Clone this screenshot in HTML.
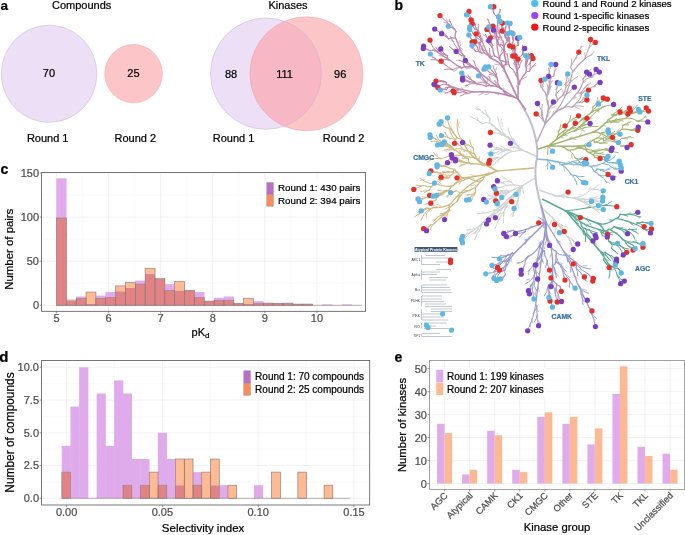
<!DOCTYPE html>
<html><head><meta charset="utf-8"><style>
html,body{margin:0;padding:0;background:#fff;}
svg{display:block;font-family:'Liberation Sans',sans-serif;filter:blur(0.3px);}
text{stroke:currentColor;stroke-width:0.22px;}
</style></head><body>
<svg width="685" height="535" viewBox="0 0 685 535" style="font-family:'Liberation Sans',sans-serif">
<rect width="685" height="535" fill="#fff"/>
<text x="0.60" y="9.50" font-size="13.5" fill="#000" style="color:#000" text-anchor="start" font-weight="bold" >a</text>
<text x="52.00" y="9.10" font-size="11" fill="#000" style="color:#000" text-anchor="start" font-weight="normal" >Compounds</text>
<ellipse cx="49.1" cy="73.8" rx="47.8" ry="48.6" fill="#ecdff6" stroke="#bdb8d2" stroke-width="0.5"/>
<ellipse cx="133.55" cy="73.6" rx="28.85" ry="29.2" fill="#fcc5c7" stroke="#e3a9ae" stroke-width="0.5"/>
<text x="48.90" y="77.40" font-size="11" fill="#000" style="color:#000" text-anchor="middle" font-weight="normal" >70</text>
<text x="133.40" y="77.40" font-size="11" fill="#000" style="color:#000" text-anchor="middle" font-weight="normal" >25</text>
<text x="26.90" y="141.70" font-size="11" fill="#000" style="color:#000" text-anchor="start" font-weight="normal" >Round 1</text>
<text x="114.50" y="141.70" font-size="11" fill="#000" style="color:#000" text-anchor="start" font-weight="normal" >Round 2</text>
<text x="268.40" y="9.10" font-size="11" fill="#000" style="color:#000" text-anchor="start" font-weight="normal" >Kinases</text>
<defs><clipPath id="cpL"><ellipse cx="265.95" cy="73.65" rx="55.45" ry="55.65"/></clipPath></defs>
<ellipse cx="265.95" cy="73.65" rx="55.45" ry="55.65" fill="#ecdff6"/>
<ellipse cx="306.45" cy="73.8" rx="56.55" ry="57" fill="#fcc5c7"/>
<ellipse cx="306.45" cy="73.8" rx="56.55" ry="57" fill="#f8b7c5" clip-path="url(#cpL)"/>
<ellipse cx="265.95" cy="73.65" rx="55.45" ry="55.65" fill="none" stroke="#c4b3cf" stroke-width="0.5"/>
<ellipse cx="306.45" cy="73.8" rx="56.55" ry="57" fill="none" stroke="#e0a6ae" stroke-width="0.5"/>
<text x="231.00" y="78.00" font-size="11" fill="#000" style="color:#000" text-anchor="middle" font-weight="normal" >88</text>
<text x="284.50" y="78.00" font-size="11" fill="#000" style="color:#000" text-anchor="middle" font-weight="normal" >111</text>
<text x="340.20" y="78.00" font-size="11" fill="#000" style="color:#000" text-anchor="middle" font-weight="normal" >96</text>
<text x="212.80" y="141.70" font-size="11" fill="#000" style="color:#000" text-anchor="start" font-weight="normal" >Round 1</text>
<text x="322.80" y="141.70" font-size="11" fill="#000" style="color:#000" text-anchor="start" font-weight="normal" >Round 2</text>
<text x="394.40" y="10.20" font-size="14" fill="#000" style="color:#000" text-anchor="start" font-weight="bold" >b</text>
<path d="M518,99 C524,108 531,120 534,132 C537,142 538,150 537,158 C535,166 535,174 536,182 C537,192 540,200 541,206 C543,214 544,222 544,228" fill="none" stroke="#c3bcd0" stroke-width="2"/>
<path d="M526,110 L518,99" fill="none" stroke="#bb86aa" stroke-width="1.4"/>
<path d="M518.1,89.0 L516.3,85.5 M516.6,69.6 L515.2,67.2 M516.4,67.3 L517.7,63.4 M515.4,58.2 L516.4,54.9 M508.8,38.4 L505.5,34.7 M521.6,56.1 L522.7,51.5 M522.8,52.0 L521.6,49.6 M510.5,48.0 L510.5,45.3 M514.8,49.0 L513.4,46.3 M522.3,79.1 L526.2,77.1 M527.5,57.7 L527.2,55.2 M525.5,57.4 L527.0,53.6 M533.1,66.7 L535.9,65.3 M517.7,79.9 L517.9,75.3 M513.9,72.5 L512.8,68.9 M507.6,56.0 L505.4,52.9 M506.0,73.3 L502.4,70.3 M508.2,78.1 L505.7,76.3 M511.0,84.0 L508.1,81.0 M504.5,70.0 L504.5,65.7 M500.5,45.6 L501.1,42.8 M501.0,51.9 L502.2,48.4 M498.7,26.5 L499.9,22.5 M500.0,40.1 L497.1,36.5 M499.4,33.5 L497.7,31.3 M500.1,11.9 L499.7,9.0 M505.6,57.5 L503.9,55.6 M503.3,32.3 L504.0,27.4 M500.8,24.4 L501.5,21.9 M508.6,36.9 L507.2,33.5 M505.5,28.8 L506.6,26.1 M488.9,22.1 L488.6,19.5 M495.1,36.2 L492.9,34.8 M491.8,28.6 L488.1,25.5 M495.6,39.1 L491.3,37.9 M499.6,32.2 L497.0,28.4 M502.7,54.1 L505.4,51.3 M499.3,46.2 L498.0,42.1 M502.3,40.7 L500.4,38.4 M487.0,37.4 L483.2,34.6 M489.1,44.5 L487.6,40.0 M483.1,49.4 L481.9,45.1 M499.4,65.0 L494.9,64.1 M482.7,40.5 L482.9,37.7 M482.6,40.1 L479.6,37.1 M475.3,26.1 L474.7,22.6 M480.0,45.6 L478.1,43.1 M483.4,50.7 L479.8,48.2 M498.0,84.9 L494.1,84.8 M497.3,84.4 L495.6,80.9 M490.2,79.4 L488.8,76.3 M490.9,79.8 L489.0,76.5 M495.7,83.2 L494.6,80.4 M458.8,42.9 L456.3,41.6 M460.5,45.6 L459.6,40.7 M462.6,49.1 L459.4,47.4 M442.2,34.4 L440.2,31.7 M447.7,23.3 L446.7,19.3 M447.8,23.4 L443.8,22.2 M450.7,22.2 L448.5,21.1 M470.8,67.8 L466.1,68.7 M465.2,61.0 L463.3,57.0 M454.0,41.6 L451.1,40.2 M460.0,49.6 L459.6,46.2 M457.3,69.0 L453.7,71.4 M445.3,64.3 L442.0,63.7 M449.8,60.1 L446.7,60.0 M443.5,60.5 L439.5,62.7 M435.6,58.3 L432.3,57.2 M442.0,50.2 L441.2,45.5 M444.0,56.2 L439.1,55.6 M431.9,43.1 L431.5,39.3 M482.8,93.0 L480.4,91.4 M498.8,94.8 L494.7,92.9 M488.7,93.6 L485.5,94.8 M483.0,93.0 L478.8,95.2 M463.9,89.8 L461.3,87.5 M443.2,82.0 L440.8,80.6 M447.8,92.8 L443.2,91.8 M447.2,87.7 L444.0,89.1 M504.4,91.3 L503.7,88.1 M498.5,80.6 L495.1,77.6 M495.6,71.8 L496.4,67.2 M490.1,68.3 L488.8,64.7 M493.3,86.3 L490.6,86.6 M487.7,81.3 L487.1,76.8 M481.1,72.9 L477.1,70.9 M474.4,61.9 L472.5,60.1 M471.3,66.2 L467.3,66.6 M460.2,60.5 L456.3,60.4 M480.8,77.9 L479.4,75.4 M479.0,84.2 L476.2,84.8 M467.8,85.2 L465.4,87.1 M471.2,79.4 L469.9,76.5 M472.8,80.5 L469.0,79.1" fill="none" stroke="#bb86aa" stroke-width="0.7" stroke-linecap="round"/>
<path d="M518.4,45.0 Q518.4,41.5 519.7,37.4 M518.4,45.0 Q518.4,44.5 517.9,43.9 M517.9,43.9 Q517.8,41.3 517.6,38.2 M517.9,43.9 Q517.8,41.6 518.1,38.7 M513.5,40.4 Q513.2,36.9 514.8,32.7 M513.5,40.4 Q513.5,39.7 512.6,39.2 M512.6,39.2 Q512.3,36.2 511.2,32.6 M512.6,39.2 Q512.3,36.6 512.8,33.4 M509.8,45.1 Q509.0,39.8 508.1,33.4 M509.8,45.1 Q509.7,44.7 509.6,44.2 M509.6,44.2 Q509.1,41.0 509.5,37.1 M509.6,44.2 Q509.1,41.4 507.6,38.3 M517.1,62.6 Q517.0,58.1 522.8,54.4 M522.8,54.4 Q523.1,51.7 524.7,48.5 M522.8,54.4 Q523.3,50.3 522.6,45.2 M514.1,56.1 Q513.7,51.1 509.6,45.8 M515.0,54.6 Q514.7,49.8 514.7,44.0 M515.0,54.6 Q515.0,54.5 514.9,54.8 M514.9,54.8 Q514.6,51.1 512.8,46.9 M514.9,54.8 Q514.6,51.8 515.9,48.2 M526.3,67.0 Q526.9,65.0 529.9,63.9 M529.9,63.9 Q531.1,60.3 531.4,55.6 M529.9,63.9 Q530.8,61.2 533.0,58.5 M525.4,65.9 Q526.7,59.9 528.8,52.7 M525.4,65.3 Q526.3,61.1 525.5,55.6 M525.4,65.3 Q525.5,64.8 526.4,64.7 M526.4,64.7 Q527.2,61.2 527.9,56.9 M526.4,64.7 Q527.0,62.3 528.0,59.5 M525.7,73.0 Q526.2,71.1 529.5,71.1 M529.5,71.1 Q531.0,67.5 530.0,62.3 M529.5,71.1 Q531.2,67.0 535.8,63.3 M517.2,71.2 Q517.1,67.3 513.7,63.3 M517.6,69.8 Q517.6,66.3 514.6,62.6 M514.6,62.6 Q514.3,59.5 512.8,56.0 M514.6,62.6 Q514.3,59.6 515.2,56.0 M519.4,67.5 Q519.5,64.1 521.9,60.4 M519.4,67.5 Q519.4,66.1 518.6,64.6 M518.6,64.6 Q518.6,62.1 518.1,59.1 M518.6,64.6 Q518.6,61.4 519.2,57.6 M515.9,75.1 Q515.4,70.4 509.6,66.8 M509.6,66.8 Q508.0,60.8 507.1,53.4 M509.6,66.8 Q508.8,63.9 506.9,60.8 M498.1,20.3 Q496.9,15.5 500.6,9.5 M498.1,20.3 Q497.3,16.9 494.1,13.7 M494.1,13.7 Q493.1,10.3 490.4,6.7 M494.1,13.7 Q493.2,10.7 493.8,6.7 M502.7,30.8 Q501.2,24.3 498.5,16.7 M502.7,30.8 Q502.5,30.1 502.8,29.1 M502.8,29.1 Q502.0,25.5 500.1,21.5 M502.8,29.1 Q502.2,26.5 502.5,23.1 M508.2,39.4 Q507.5,35.2 509.5,30.2 M509.5,30.2 Q509.1,26.9 507.3,23.1 M509.5,30.2 Q509.2,27.2 510.1,23.5 M506.1,37.9 Q505.1,32.8 505.4,26.3 M506.1,37.9 Q506.0,37.6 505.4,37.7 M505.4,37.7 Q504.7,34.4 502.2,31.0 M505.4,37.7 Q504.7,34.3 505.6,30.0 M498.7,44.1 Q494.5,32.4 487.4,18.8 M497.9,41.2 Q496.5,37.1 490.6,34.7 M490.6,34.7 Q489.3,31.4 488.8,27.0 M490.6,34.7 Q489.5,32.0 487.0,29.4 M498.7,38.0 Q498.5,37.2 500.4,37.1 M500.4,37.1 Q499.2,32.8 498.9,27.4 M500.4,37.1 Q499.7,34.4 497.7,31.5 M496.7,35.8 Q495.8,33.0 493.5,30.2 M496.7,35.8 Q496.2,34.2 496.1,32.2 M496.1,32.2 Q495.2,29.3 492.8,26.2 M496.1,32.2 Q495.2,29.3 495.3,25.4 M503.8,51.4 Q502.6,47.2 497.5,44.1 M503.8,51.4 Q503.2,49.3 504.2,46.6 M504.2,46.6 Q502.9,42.0 501.0,36.5 M504.2,46.6 Q503.5,44.0 503.1,40.8 M492.6,48.4 Q489.4,42.0 485.4,34.2 M492.3,47.8 Q490.3,43.9 485.5,40.9 M492.3,47.8 Q491.8,46.9 492.7,45.6 M492.7,45.6 Q491.1,42.3 490.4,37.8 M492.7,45.6 Q491.4,43.0 488.8,40.5 M494.7,56.0 Q493.9,54.6 491.2,57.0 M491.2,57.0 Q488.1,52.2 481.9,48.4 M491.2,57.0 Q489.1,53.7 489.5,48.5 M479.7,33.6 Q476.1,27.4 471.7,19.9 M471.7,19.9 Q469.7,16.4 469.0,11.4 M471.7,19.9 Q470.1,17.0 466.5,14.8 M479.4,33.1 Q477.4,29.7 478.3,24.3 M476.3,29.3 Q475.9,28.6 474.5,28.9 M474.5,28.9 Q473.1,26.8 472.1,23.8 M474.5,28.9 Q472.8,26.2 470.1,23.1 M476.3,29.3 Q475.3,27.6 475.3,24.9 M475.3,24.9 Q473.8,22.4 471.0,19.9 M475.3,24.9 Q473.7,22.2 473.0,18.4 M481.6,53.2 Q478.4,49.2 479.3,42.0 M477.4,46.8 Q475.7,44.8 474.5,41.7 M477.4,46.8 Q477.0,46.4 476.3,46.1 M476.3,46.1 Q474.7,44.1 472.1,42.1 M476.3,46.1 Q474.4,43.7 472.7,40.3 M479.5,52.0 Q478.5,50.8 476.1,51.6 M476.1,51.6 Q473.9,49.1 472.1,45.3 M476.1,51.6 Q474.2,49.5 471.1,47.7 M481.1,41.4 Q479.3,38.6 475.5,36.7 M481.1,41.4 Q480.4,40.3 480.5,38.6 M480.5,38.6 Q478.9,36.1 476.1,33.9 M480.5,38.6 Q478.7,35.7 477.6,31.6 M477.6,42.6 Q476.7,41.3 474.1,42.2 M474.1,42.2 Q471.6,39.1 468.9,35.0 M474.1,42.2 Q472.5,40.2 470.4,38.0 M475.7,36.9 Q474.1,34.7 472.2,32.0 M475.7,36.9 Q474.6,35.5 473.4,33.7 M473.4,33.7 Q471.5,30.8 469.7,27.0 M473.4,33.7 Q472.0,31.6 469.7,29.4 M448.5,38.8 Q442.7,33.9 434.7,29.1 M448.5,38.8 Q447.7,38.1 447.3,36.8 M447.3,36.8 Q445.1,34.9 441.6,33.7 M447.3,36.8 Q444.5,34.3 442.0,30.3 M456.1,31.6 Q449.2,24.1 440.0,15.6 M456.1,31.6 Q455.5,31.0 455.2,29.9 M455.2,29.9 Q452.8,27.3 448.3,26.2 M455.2,29.9 Q451.5,25.9 449.2,19.5 M464.8,56.2 Q456.3,49.3 450.5,36.7 M461.5,55.7 Q459.0,53.8 456.2,51.4 M461.5,55.7 Q458.5,53.4 454.7,50.7 M454.7,50.7 Q452.3,48.8 449.3,46.4 M454.7,50.7 Q452.9,49.2 450.5,47.5 M461.9,68.1 Q458.3,66.1 453.0,69.9 M453.0,69.9 Q446.9,67.2 441.1,61.2 M453.0,69.9 Q449.5,68.3 444.6,69.5 M449.4,60.3 Q445.2,57.9 438.6,60.7 M438.6,60.7 Q434.3,58.7 430.3,54.1 M438.6,60.7 Q435.5,59.3 431.1,59.7 M447.0,55.8 Q444.2,54.1 440.6,52.2 M440.6,52.2 Q437.5,50.3 432.9,49.6 M440.6,52.2 Q437.8,50.5 435.5,47.0 M447.0,55.8 Q446.8,55.7 447.4,55.8 M447.4,55.8 Q443.8,53.6 440.8,49.0 M447.4,55.8 Q444.4,53.9 439.8,53.9 M437.5,51.9 Q432.1,48.7 430.0,40.1 M437.5,51.9 Q434.3,50.0 429.3,50.5 M429.3,50.5 Q426.4,48.9 423.6,46.1 M429.3,50.5 Q426.8,49.1 423.3,48.5 M468.8,93.4 Q464.9,93.0 460.3,95.9 M464.2,91.9 Q460.8,91.5 457.4,88.5 M464.2,91.9 Q462.3,91.7 460.0,92.5 M460.0,92.5 Q456.8,92.1 453.0,90.8 M460.0,92.5 Q457.4,92.2 454.1,92.7 M451.0,86.6 Q448.5,86.1 446.3,89.7 M446.3,89.7 Q442.4,89.2 437.9,87.6 M446.3,89.7 Q443.6,89.3 440.3,89.9 M446.6,84.2 Q443.5,83.6 439.8,85.5 M439.8,85.5 Q437.2,85.0 434.0,84.3 M439.8,85.5 Q437.5,85.1 434.7,84.8 M446.7,82.5 Q442.0,81.4 436.0,81.1 M446.7,82.5 Q445.9,82.3 445.1,81.6 M445.1,81.6 Q442.8,81.1 440.1,80.4 M445.1,81.6 Q442.5,81.0 439.4,80.2 M458.0,90.2 Q452.0,89.4 444.9,93.5 M458.0,90.2 Q456.1,90.0 454.7,87.5 M454.7,87.5 Q450.6,86.7 445.4,87.7 M454.7,87.5 Q451.5,86.9 448.2,84.3 M497.3,77.7 Q494.5,74.9 489.2,74.2 M496.5,76.2 Q494.2,73.7 489.9,72.7 M489.9,72.7 Q487.5,70.5 485.6,66.8 M489.9,72.7 Q487.6,70.6 484.0,69.2 M496.7,74.1 Q493.9,71.0 493.0,65.6 M496.7,74.1 Q496.2,73.6 495.2,74.2 M495.2,74.2 Q492.2,70.9 488.8,66.8 M495.2,74.2 Q493.5,72.3 491.1,70.1 M478.4,69.5 Q474.8,66.9 473.8,60.7 M478.4,69.5 Q475.0,67.0 469.9,65.5 M469.9,65.5 Q467.4,63.8 465.4,60.4 M469.9,65.5 Q465.4,62.4 459.0,60.0 M486.4,86.3 Q485.1,85.8 486.7,83.3 M486.7,83.3 Q482.3,81.0 478.5,75.8 M486.7,83.3 Q483.3,81.5 478.2,82.3 M477.6,83.8 Q472.5,81.9 465.6,85.5 M474.5,81.6 Q468.1,79.0 461.8,73.1 M474.8,82.4 Q470.7,80.8 467.9,75.5 M470.0,81.8 Q466.4,80.5 462.6,77.9 M470.0,81.8 Q469.7,81.7 469.5,82.2 M469.5,82.2 Q466.4,81.1 462.6,80.0 M469.5,82.2 Q467.2,81.4 464.5,80.2" fill="none" stroke="#bb86aa" stroke-width="1.0" stroke-linecap="round"/>
<path d="M515.9,62.7 Q515.6,56.8 514.3,49.7 M514.3,49.7 Q514.1,46.9 518.4,45.0 M514.3,49.7 Q514.2,47.7 512.0,46.0 M512.0,46.0 Q511.7,43.4 513.5,40.4 M512.0,46.0 Q511.9,44.9 509.8,45.1 M515.9,62.7 Q515.9,62.2 517.1,62.6 M517.1,62.6 Q517.0,59.4 514.1,56.1 M514.1,56.1 Q514.1,55.3 515.0,54.6 M519.5,84.4 Q520.1,78.6 525.7,73.0 M525.7,73.0 Q526.4,70.4 526.3,67.0 M526.3,67.0 Q526.5,66.4 525.4,65.9 M525.4,65.9 Q525.4,65.7 525.4,65.3 M519.5,84.4 Q520.0,79.9 515.9,75.1 M515.9,75.1 Q515.7,73.2 517.2,71.2 M517.2,71.2 Q517.2,70.5 517.6,69.8 M517.6,69.8 Q517.6,68.5 519.4,67.5 M502.3,65.3 Q493.7,46.9 498.1,20.3 M504.1,47.4 Q503.4,44.6 507.2,41.8 M507.2,41.8 Q506.2,36.6 502.7,30.8 M507.2,41.8 Q507.0,40.7 508.2,39.4 M508.2,39.4 Q508.0,38.2 506.1,37.9 M504.1,47.4 Q503.4,44.6 498.7,44.1 M498.7,44.1 Q498.2,42.9 497.9,41.2 M497.9,41.2 Q497.5,39.8 498.7,38.0 M498.7,38.0 Q498.3,36.7 496.7,35.8 M506.7,64.3 Q505.6,61.1 500.2,60.4 M500.2,60.4 Q498.4,56.4 503.8,51.4 M500.2,60.4 Q498.9,57.5 494.7,56.0 M494.7,56.0 Q493.0,52.9 492.6,48.4 M492.6,48.4 Q492.4,48.1 492.3,47.8 M490.5,58.2 Q483.8,48.1 479.7,33.6 M479.7,33.6 Q479.6,33.4 479.4,33.1 M479.4,33.1 Q478.3,31.2 476.3,29.3 M484.6,53.2 Q483.8,52.1 481.6,53.2 M481.6,53.2 Q480.9,52.4 479.5,52.0 M479.5,52.0 Q477.9,50.1 477.4,46.8 M484.6,53.2 Q482.0,49.6 480.4,44.4 M480.4,44.4 Q479.6,43.2 481.1,41.4 M480.4,44.4 Q479.5,43.1 477.6,42.6 M477.6,42.6 Q476.0,40.4 475.7,36.9 M474.7,68.3 Q462.0,59.3 456.3,39.1 M456.3,39.1 Q453.8,36.6 448.5,38.8 M456.3,39.1 Q453.9,36.7 456.1,31.6 M465.6,67.1 Q461.4,64.6 464.8,56.2 M464.8,56.2 Q463.6,55.2 461.5,55.7 M465.6,67.1 Q464.2,66.2 461.9,68.1 M461.9,68.1 Q455.3,64.4 448.0,58.9 M448.0,58.9 Q447.2,58.5 449.4,60.3 M449.4,60.3 Q447.4,59.2 447.0,55.8 M448.0,58.9 Q443.0,56.1 437.5,51.9 M473.5,91.9 Q471.3,91.5 468.8,93.4 M468.8,93.4 Q466.7,93.2 464.2,91.9 M473.5,91.9 Q466.2,90.7 457.6,88.4 M457.6,88.4 Q454.6,87.9 451.0,86.6 M451.0,86.6 Q448.8,86.1 446.6,84.2 M446.6,84.2 Q445.8,84.0 446.7,82.5 M457.6,88.4 Q456.8,88.3 458.0,90.2 M501.8,88.9 Q497.2,86.0 497.3,77.7 M497.3,77.7 Q496.7,77.1 496.5,76.2 M496.5,76.2 Q495.9,75.5 496.7,74.1 M501.8,88.9 Q497.5,86.2 491.2,85.7 M491.2,85.7 Q482.9,81.5 478.4,69.5 M491.2,85.7 Q489.2,84.7 486.4,86.3 M486.4,86.3 Q482.6,84.8 477.6,83.8 M477.6,83.8 Q476.0,83.2 474.5,81.6 M474.5,81.6 Q474.1,81.4 474.8,82.4 M474.8,82.4 Q472.7,81.6 470.0,81.8" fill="none" stroke="#bb86aa" stroke-width="1.25" stroke-linecap="round"/>
<path d="M518.0,99.0 Q518.0,99.0 518.2,84.3 M518.2,84.3 Q518.3,74.6 515.9,62.7 M518.2,84.3 Q518.2,83.7 519.5,84.4 M502.8,67.6 Q501.8,65.5 506.7,64.3 M506.7,64.3 Q504.3,57.0 504.1,47.4 M502.8,67.6 Q499.7,61.3 490.5,58.2 M490.5,58.2 Q488.6,55.3 484.6,53.2 M517.5,98.7 Q496.6,87.7 474.7,68.3 M474.7,68.3 Q471.3,65.9 465.6,67.1 M517.5,98.7 Q514.2,97.0 509.7,96.1 M509.7,96.1 Q494.3,90.6 473.5,91.9 M509.7,96.1 Q505.2,94.5 501.8,88.9" fill="none" stroke="#bb86aa" stroke-width="1.5" stroke-linecap="round"/>
<path d="M518.0,99.0 Q518.0,99.0 518.0,99.0 M518.0,99.0 Q518.0,99.0 518.0,99.0 M518.0,99.0 Q518.0,99.0 502.3,65.3 M502.3,65.3 Q501.8,64.3 502.8,67.6 M518.0,99.0 Q518.0,99.0 517.5,98.7" fill="none" stroke="#bb86aa" stroke-width="1.75" stroke-linecap="round"/>
<path d="M537,142 L545,124" fill="none" stroke="#bba6b3" stroke-width="1.4"/>
<path d="M547.2,114.5 L550.7,111.2 M552.2,103.9 L552.0,99.5 M547.5,104.7 L548.6,100.9 M543.4,118.6 L541.3,115.7 M538.9,106.2 L534.7,103.8 M539.0,116.6 L537.9,114.3 M546.6,117.7 L549.4,113.9 M551.4,108.0 L554.7,106.9 M561.6,96.5 L564.0,95.5 M567.9,93.3 L571.2,91.9 M569.0,84.5 L571.1,80.4 M566.6,78.7 L565.9,76.2 M547.1,101.1 L545.6,98.8 M548.3,92.2 L547.4,89.0 M549.0,88.3 L550.9,86.0 M550.4,67.4 L553.0,63.6 M554.5,71.7 L556.3,68.9 M543.1,86.6 L541.5,82.8 M549.1,82.8 L547.1,78.8 M552.6,115.4 L553.6,111.1 M563.1,93.6 L562.7,89.8 M562.6,94.6 L565.7,91.6 M566.6,85.5 L566.8,82.1 M568.6,81.2 L568.8,78.1 M574.4,60.6 L577.4,58.1 M580.8,47.6 L583.4,46.0 M576.2,68.5 L577.4,65.9 M591.0,55.3 L594.0,51.4 M585.0,57.2 L584.9,52.6 M590.0,42.1 L591.8,40.1 M594.4,43.2 L599.0,41.3 M560.3,110.0 L561.7,107.6 M575.6,107.0 L579.9,109.1 M580.0,96.7 L580.7,92.8 M582.6,99.5 L583.6,96.9 M571.8,98.8 L576.2,97.6 M572.9,97.6 L575.7,96.7 M582.1,83.4 L586.1,81.4 M589.9,77.7 L594.2,76.9 M585.9,75.4 L586.8,71.1 M592.7,86.9 L595.4,86.4" fill="none" stroke="#bba6b3" stroke-width="0.7" stroke-linecap="round"/>
<path d="M545.0,124.0 Q545.0,124.0 548.1,110.7 M548.1,110.7 Q549.2,106.2 553.4,101.9 M548.1,110.7 Q549.1,106.7 547.1,101.5 M544.0,121.2 Q542.6,117.3 542.1,112.1 M542.1,112.1 Q541.0,107.9 537.5,103.5 M542.1,112.1 Q541.2,108.7 542.5,104.3 M544.0,121.2 Q543.8,120.7 543.0,120.4 M543.0,120.4 Q540.9,116.7 536.2,113.9 M543.0,120.4 Q541.1,116.9 541.3,111.7 M555.7,95.1 Q557.1,91.5 561.5,88.8 M555.7,95.1 Q556.6,92.7 556.4,89.5 M556.4,89.5 Q557.4,86.6 557.3,82.7 M556.4,89.5 Q557.4,86.6 559.7,83.5 M563.1,95.0 Q563.7,94.0 565.7,95.5 M565.7,95.5 Q568.8,91.1 574.3,87.2 M565.7,95.5 Q567.6,92.8 568.0,88.6 M565.8,87.5 Q569.5,81.1 577.9,76.3 M565.8,87.5 Q566.5,86.3 565.1,84.6 M565.1,84.6 Q567.4,80.2 567.7,73.9 M565.1,84.6 Q566.8,81.4 570.9,79.1 M551.2,77.4 Q551.4,75.6 549.1,74.0 M549.1,74.0 Q549.5,69.6 551.0,64.4 M549.1,74.0 Q549.4,71.2 548.6,67.9 M551.2,77.4 Q551.3,76.1 553.7,76.1 M553.7,76.1 Q554.7,70.9 555.7,64.4 M553.7,76.1 Q554.2,73.5 554.9,70.2 M542.5,89.4 Q542.2,84.7 544.6,79.2 M542.5,89.4 Q542.4,88.2 541.1,87.2 M541.1,87.2 Q540.8,84.1 541.0,80.3 M541.1,87.2 Q540.9,84.7 540.0,81.7 M548.5,94.4 Q548.5,93.9 548.5,93.1 M548.5,93.1 Q548.9,89.2 547.4,84.5 M548.5,93.1 Q548.8,89.8 551.3,86.2 M548.5,94.4 Q548.8,91.1 549.5,87.1 M549.5,87.1 Q550.0,82.2 548.6,76.3 M549.5,87.1 Q549.9,83.8 552.4,80.4 M570.5,67.4 Q572.1,63.9 571.8,58.8 M570.5,67.4 Q572.6,62.8 576.1,57.6 M576.1,57.6 Q577.3,55.1 578.8,52.1 M576.1,57.6 Q578.5,52.5 581.4,46.2 M583.7,60.2 Q586.1,56.3 592.1,54.6 M583.7,60.2 Q586.7,55.4 588.6,48.5 M588.6,48.5 Q590.7,44.9 590.6,39.5 M588.6,48.5 Q590.6,45.0 595.3,42.4 M571.8,107.2 Q576.3,104.4 583.4,106.6 M576.1,103.2 Q580.2,100.4 581.8,93.7 M580.1,102.2 Q583.9,99.8 586.9,94.9 M580.1,102.2 Q580.7,101.7 581.8,102.4 M581.8,102.4 Q584.0,101.1 586.9,100.0 M581.8,102.4 Q584.9,100.5 588.4,97.8 M583.0,81.9 Q586.2,78.3 592.2,76.3 M592.2,76.3 Q594.7,73.8 596.1,69.4 M592.2,76.3 Q594.8,73.7 599.3,72.1 M582.9,79.1 Q586.6,74.6 591.0,69.1 M582.9,79.1 Q583.0,78.9 583.3,78.8 M583.3,78.8 Q585.4,76.2 586.6,72.1 M583.3,78.8 Q585.5,76.1 589.5,74.2 M581.5,93.9 Q586.9,89.4 594.8,85.6 M594.8,85.6 Q597.0,83.9 600.1,82.5 M594.8,85.6 Q597.0,83.9 599.1,81.2 M580.7,92.9 Q583.5,90.5 588.5,90.1 M580.7,92.9 Q582.7,91.2 584.1,88.3 M584.1,88.3 Q585.9,86.6 587.8,84.1 M584.1,88.3 Q586.8,85.8 590.6,83.1" fill="none" stroke="#bba6b3" stroke-width="1.0" stroke-linecap="round"/>
<path d="M545.0,124.0 Q545.0,124.0 545.0,124.0 M545.0,124.0 Q545.0,124.0 544.0,121.2 M548.1,111.7 Q549.6,105.9 556.9,101.7 M556.9,101.7 Q558.3,99.0 555.7,95.1 M556.9,101.7 Q558.9,98.0 563.1,95.0 M563.1,95.0 Q565.0,91.9 565.8,87.5 M548.1,111.7 Q549.5,106.2 546.9,99.1 M546.9,99.1 Q547.7,89.2 551.2,77.4 M546.9,99.1 Q547.0,97.5 546.0,95.5 M546.0,95.5 Q546.1,92.4 542.5,89.4 M546.0,95.5 Q546.0,94.3 548.5,94.4 M554.2,113.6 Q567.4,98.7 572.2,73.0 M572.2,73.0 Q573.4,70.7 570.5,67.4 M572.2,73.0 Q575.8,66.2 583.7,60.2 M563.2,108.3 Q566.1,105.7 571.8,107.2 M571.8,107.2 Q574.0,105.8 576.1,103.2 M576.1,103.2 Q577.6,102.2 580.1,102.2 M563.2,108.3 Q570.0,102.4 576.6,93.5 M576.6,93.5 Q580.9,89.4 583.0,81.9 M583.0,81.9 Q583.8,81.0 582.9,79.1 M576.6,93.5 Q578.2,92.0 581.5,93.9 M581.5,93.9 Q581.9,93.5 580.7,92.9" fill="none" stroke="#bba6b3" stroke-width="1.25" stroke-linecap="round"/>
<path d="M545.0,124.0 Q545.0,124.0 545.0,124.0 M545.0,124.0 Q545.0,124.0 548.1,111.7 M545.0,124.0 Q545.0,124.0 554.2,113.6 M554.2,113.6 Q557.3,110.1 563.2,108.3" fill="none" stroke="#bba6b3" stroke-width="1.5" stroke-linecap="round"/>
<path d="M545.0,124.0 Q545.0,124.0 545.0,124.0" fill="none" stroke="#bba6b3" stroke-width="1.75" stroke-linecap="round"/>
<path d="M538,149 L548,146" fill="none" stroke="#a2b470" stroke-width="1.4"/>
<path d="M578.9,136.4 L581.3,133.8 M567.9,139.9 L569.8,138.1 M569.0,139.5 L571.5,136.7 M571.9,138.6 L576.1,139.6 M570.0,139.2 L572.7,137.2 M602.5,135.8 L605.8,138.9 M610.8,139.3 L615.2,139.5 M629.3,136.8 L633.6,138.0 M629.6,144.9 L633.0,142.8 M616.9,131.9 L619.3,128.8 M627.0,123.5 L629.3,121.0 M600.6,126.3 L605.0,125.6 M614.3,122.0 L619.0,122.7 M618.1,110.2 L622.5,109.9 M619.4,119.9 L623.7,121.1 M612.2,121.6 L616.4,122.0 M636.6,121.1 L639.6,120.3 M646.7,121.8 L650.5,124.5 M644.2,117.2 L646.9,117.1 M638.4,112.5 L641.0,113.1 M632.4,109.7 L634.2,106.2 M552.6,146.1 L555.4,144.6 M571.4,154.1 L572.3,158.2 M581.7,159.0 L585.0,160.7 M576.0,148.4 L578.2,146.8 M593.3,150.7 L595.8,150.1 M591.9,150.5 L595.1,152.5 M582.9,146.3 L586.3,142.9 M583.9,149.6 L587.7,148.9 M578.1,145.9 L582.0,147.4 M576.9,145.9 L580.5,147.7 M589.4,141.9 L590.7,139.6 M617.3,134.3 L621.3,132.5 M613.9,142.0 L616.6,140.7 M598.9,153.5 L603.3,152.3 M596.1,150.5 L599.8,148.6 M608.7,151.0 L611.1,150.1 M571.5,127.9 L574.3,127.4 M580.7,120.7 L582.6,117.7 M582.3,119.5 L583.7,117.2 M562.8,134.6 L563.9,132.1 M581.7,119.9 L584.2,119.5 M595.9,111.3 L599.2,111.8 M610.9,105.4 L614.3,106.1 M598.5,104.4 L599.4,100.8 M602.5,101.8 L604.6,99.3 M596.8,102.2 L597.7,97.3 M564.5,135.7 L567.6,135.7 M560.9,137.7 L563.6,137.9 M586.5,119.9 L591.2,118.6 M586.8,119.7 L589.9,118.5 M588.3,118.4 L591.5,117.3 M581.0,129.9 L584.6,131.4 M581.4,129.9 L584.2,127.7 M582.9,122.7 L584.4,118.3 M588.7,124.0 L590.9,121.2 M573.1,125.7 L576.9,124.4 M572.7,119.9 L576.6,119.7" fill="none" stroke="#a2b470" stroke-width="0.7" stroke-linecap="round"/>
<path d="M548.0,146.0 Q548.0,146.0 548.0,146.0 M548.0,146.0 Q548.0,146.0 552.6,151.2 M548.0,146.0 Q548.0,146.0 547.7,154.6 M616.1,142.5 Q619.1,142.4 621.4,138.5 M621.4,138.5 Q625.6,138.0 630.5,136.5 M621.4,138.5 Q624.1,138.2 627.4,138.9 M616.1,142.5 Q618.8,142.4 620.8,146.0 M620.8,146.0 Q625.5,146.0 631.1,144.7 M620.8,146.0 Q623.7,146.0 627.1,147.4 M630.3,130.1 Q634.0,129.4 638.3,127.2 M630.3,130.1 Q630.5,130.0 630.6,130.6 M630.6,130.6 Q633.8,130.0 637.8,130.3 M630.6,130.6 Q633.2,130.1 636.2,128.6 M621.5,129.4 Q623.4,129.0 622.5,125.3 M622.5,125.3 Q626.4,124.2 630.9,121.8 M622.5,125.3 Q625.1,124.6 628.6,124.8 M608.0,119.7 Q609.7,118.9 611.0,122.6 M611.0,122.6 Q614.0,121.5 616.7,118.4 M611.0,122.6 Q615.4,120.9 621.3,120.8 M620.0,114.6 Q623.2,113.1 627.9,114.0 M621.7,112.9 Q624.1,111.8 626.8,109.9 M621.7,112.9 Q622.5,112.6 623.5,112.5 M623.5,112.5 Q626.5,111.2 629.5,108.2 M623.5,112.5 Q626.3,111.2 630.3,111.1 M611.8,115.0 Q617.1,112.4 622.1,107.1 M611.8,115.0 Q613.2,114.3 615.1,114.7 M615.1,114.7 Q617.4,113.6 620.0,111.9 M615.1,114.7 Q617.4,113.6 620.4,112.7 M624.9,118.6 Q630.6,116.5 638.0,121.4 M638.0,121.4 Q642.3,120.2 647.8,121.9 M638.0,121.4 Q642.1,120.3 645.8,116.1 M628.8,114.3 Q633.7,112.4 640.2,112.2 M640.2,112.2 Q643.3,111.0 646.2,107.9 M640.2,112.2 Q643.8,110.8 648.6,111.1 M629.1,112.7 Q633.8,110.8 637.4,105.2 M629.1,112.7 Q630.6,112.1 632.6,113.2 M632.6,113.2 Q635.5,112.1 638.3,109.5 M632.6,113.2 Q635.7,112.0 639.9,111.9 M567.3,149.9 Q572.3,150.9 575.1,158.0 M575.1,158.0 Q579.5,160.0 585.8,159.6 M575.1,158.0 Q578.6,159.6 581.3,164.0 M577.7,148.1 Q586.3,148.7 596.6,151.3 M577.7,148.1 Q578.2,148.1 578.6,147.4 M578.6,147.4 Q583.5,147.7 589.0,144.7 M578.6,147.4 Q582.8,147.6 587.1,151.0 M594.3,142.3 Q597.9,142.1 601.5,139.1 M594.3,142.3 Q596.8,142.1 599.8,143.1 M599.8,143.1 Q603.2,142.9 607.3,143.1 M599.8,143.1 Q602.3,143.0 605.3,142.4 M597.3,138.0 Q600.1,137.6 601.4,133.2 M601.4,133.2 Q604.7,132.4 608.1,129.9 M601.4,133.2 Q604.7,132.4 608.8,133.1 M602.5,138.7 Q605.9,138.3 608.6,134.4 M608.6,134.4 Q613.6,133.5 620.0,134.2 M608.6,134.4 Q611.7,133.8 614.9,131.3 M603.6,140.8 Q610.3,140.1 618.4,142.6 M603.6,140.8 Q605.1,140.6 606.6,139.0 M606.6,139.0 Q609.3,138.7 612.5,137.3 M606.6,139.0 Q609.7,138.6 613.5,139.2 M592.9,154.8 Q596.3,155.4 600.4,156.3 M600.4,156.3 Q603.8,157.0 608.1,156.4 M600.4,156.3 Q603.3,156.9 606.5,159.0 M592.9,154.7 Q594.3,155.0 594.7,157.3 M594.7,157.3 Q597.1,157.8 600.1,158.5 M594.7,157.3 Q598.5,158.2 603.3,159.4 M592.9,154.7 Q594.2,154.9 595.1,152.9 M595.1,152.9 Q599.2,153.5 604.2,154.4 M595.1,152.9 Q597.6,153.3 600.7,153.6 M602.1,149.7 Q609.5,150.2 618.3,152.8 M602.1,149.7 Q603.4,149.8 605.0,149.0 M605.0,149.0 Q608.1,149.2 612.0,148.2 M605.0,149.0 Q607.8,149.2 611.2,150.5 M589.9,113.6 Q599.0,106.6 613.6,104.4 M592.7,110.2 Q596.0,107.6 599.3,103.6 M599.3,103.6 Q601.7,101.6 603.3,98.0 M599.3,103.6 Q602.4,101.0 607.3,99.2 M592.0,111.4 Q594.3,109.6 598.3,110.3 M598.3,110.3 Q600.3,108.9 602.7,107.1 M598.3,110.3 Q601.3,108.2 604.9,105.7 M592.0,111.4 Q593.6,110.1 592.8,107.0 M592.8,107.0 Q595.0,105.0 598.5,103.9 M592.8,107.0 Q595.9,104.2 598.7,99.9 M574.4,130.5 Q585.2,124.1 595.6,112.1 M574.1,131.4 Q583.7,126.0 598.2,126.4 M579.0,126.9 Q583.5,124.2 586.9,118.3 M580.1,127.3 Q584.3,124.9 590.1,123.5 M580.1,127.3 Q580.5,127.1 580.2,126.4 M580.2,126.4 Q583.0,124.7 587.0,124.0 M580.2,126.4 Q583.0,124.7 585.4,121.4 M557.8,135.9 Q559.1,134.5 558.3,131.6 M558.3,131.6 Q560.6,128.4 565.0,125.8 M558.3,131.6 Q560.3,128.8 560.9,124.5 M564.4,130.6 Q566.0,129.1 569.2,130.2 M569.2,130.2 Q572.5,127.7 575.3,123.2 M569.2,130.2 Q571.8,128.3 575.9,127.7 M564.4,130.6 Q567.1,128.1 567.9,123.3 M567.9,123.3 Q571.7,118.9 578.5,115.8 M567.9,123.3 Q570.4,120.5 570.7,115.5" fill="none" stroke="#a2b470" stroke-width="1.0" stroke-linecap="round"/>
<path d="M591.4,132.6 Q598.5,130.4 607.2,137.1 M607.2,137.1 Q611.9,136.4 616.1,142.5 M607.2,137.1 Q614.4,136.0 621.5,129.4 M621.5,129.4 Q625.4,128.6 630.3,130.1 M605.1,123.2 Q607.0,122.5 608.0,119.7 M608.0,119.7 Q610.9,118.4 614.1,115.8 M614.1,115.8 Q616.5,114.7 620.0,114.6 M620.0,114.6 Q621.0,114.1 621.7,112.9 M614.1,115.8 Q615.1,115.4 611.8,115.0 M605.1,123.2 Q613.6,119.9 624.9,118.6 M624.9,118.6 Q627.4,117.7 628.8,114.3 M628.8,114.3 Q629.5,114.0 629.1,112.7 M560.9,146.3 Q564.2,146.4 567.3,149.9 M567.3,149.9 Q572.0,150.9 577.7,148.1 M582.8,145.7 Q588.2,145.7 593.2,139.7 M593.2,139.7 Q594.4,139.5 594.3,142.3 M593.2,139.7 Q595.2,139.4 597.3,138.0 M597.3,138.0 Q599.7,137.6 602.5,138.7 M602.5,138.7 Q603.6,138.6 603.6,140.8 M582.8,145.7 Q586.1,145.7 587.1,151.8 M587.1,151.8 Q590.0,152.2 592.9,154.8 M592.9,154.8 Q592.9,154.8 592.9,154.7 M587.1,151.8 Q593.8,152.8 602.1,149.7 M552.9,142.3 Q569.7,129.5 589.9,113.6 M589.9,113.6 Q591.5,112.4 592.7,110.2 M592.7,110.2 Q593.2,109.8 592.0,111.4 M552.9,142.3 Q553.8,141.6 555.0,140.8 M555.0,140.8 Q562.9,134.9 574.4,130.5 M574.4,130.5 Q574.7,130.3 574.1,131.4 M574.1,131.4 Q576.7,129.9 579.0,126.9 M579.0,126.9 Q579.5,126.6 580.1,127.3 M555.0,140.8 Q557.0,139.3 557.8,135.9 M557.8,135.9 Q560.4,133.1 564.4,130.6" fill="none" stroke="#a2b470" stroke-width="1.25" stroke-linecap="round"/>
<path d="M548.0,146.0 Q548.0,146.0 591.4,132.6 M591.4,132.6 Q598.5,130.4 605.1,123.2 M548.0,146.0 Q548.0,146.0 560.9,146.3 M560.9,146.3 Q570.8,146.5 582.8,145.7 M548.0,146.0 Q548.0,146.0 552.9,142.3" fill="none" stroke="#a2b470" stroke-width="1.5" stroke-linecap="round"/>
<path d="M548.0,146.0 Q548.0,146.0 548.0,146.0 M548.0,146.0 Q548.0,146.0 548.0,146.0 M548.0,146.0 Q548.0,146.0 548.0,146.0" fill="none" stroke="#a2b470" stroke-width="1.75" stroke-linecap="round"/>
<path d="M537,159 L548,160" fill="none" stroke="#86b5cf" stroke-width="1.4"/>
<path d="M547.8,163.4 L546.5,165.9 M552.8,160.9 L556.2,163.4 M571.0,163.7 L573.3,165.0 M571.1,163.7 L573.5,165.3 M582.4,165.2 L585.4,166.8 M593.5,165.2 L597.2,166.6 M611.3,167.3 L616.1,167.2 M613.4,157.8 L615.3,155.7 M606.6,169.4 L610.1,167.7 M605.4,181.4 L609.8,183.3 M567.2,162.5 L569.4,161.0 M579.2,158.7 L583.9,158.9 M563.7,167.7 L564.6,171.2 M573.9,179.6 L576.7,181.4" fill="none" stroke="#86b5cf" stroke-width="0.7" stroke-linecap="round"/>
<path d="M548.0,160.0 Q548.0,160.0 548.0,160.0 M548.0,160.0 Q548.0,160.0 552.6,167.2 M548.0,160.0 Q548.0,160.0 547.5,169.2 M602.8,163.3 Q608.4,163.6 614.1,168.7 M614.1,168.7 Q617.3,169.1 621.2,168.0 M614.1,168.7 Q617.5,169.1 621.2,171.2 M605.5,161.3 Q610.0,161.4 614.6,157.3 M608.4,162.6 Q611.2,162.7 614.6,162.9 M608.4,162.6 Q610.1,162.6 612.2,162.7 M612.2,162.7 Q615.4,162.8 619.2,161.2 M612.2,162.7 Q616.0,162.8 620.3,164.8 M597.0,169.1 Q599.8,169.6 603.5,169.6 M597.0,169.1 Q598.6,169.4 600.5,170.1 M600.5,170.1 Q604.3,170.8 608.1,174.4 M600.5,170.1 Q604.8,170.9 610.2,169.1 M599.2,175.3 Q603.8,176.7 607.0,182.8 M599.2,175.3 Q602.7,176.4 607.3,175.5 M607.3,175.5 Q609.9,176.2 612.8,178.0 M607.3,175.5 Q611.1,176.5 616.1,176.7 M572.1,161.6 Q577.5,162.0 583.3,157.1 M576.2,163.2 Q579.9,163.7 583.6,166.7 M576.2,163.2 Q577.5,163.4 579.0,162.5 M579.0,162.5 Q582.4,162.8 586.6,163.3 M579.0,162.5 Q581.4,162.7 584.4,162.7 M571.0,174.4 Q575.6,177.3 577.0,185.0 M575.2,175.4 Q578.7,177.4 584.1,176.5 M575.2,175.4 Q577.4,176.6 579.2,179.3 M579.2,179.3 Q582.0,181.1 585.8,182.8 M579.2,179.3 Q581.3,180.6 583.6,182.6" fill="none" stroke="#86b5cf" stroke-width="1.0" stroke-linecap="round"/>
<path d="M559.0,162.2 Q572.4,164.8 589.1,166.0 M589.1,166.0 Q595.4,166.9 602.8,163.3 M602.8,163.3 Q604.3,163.4 605.5,161.3 M605.5,161.3 Q606.9,161.3 608.4,162.6 M589.1,166.0 Q592.3,166.5 593.9,171.3 M593.9,171.3 Q595.5,171.7 597.0,169.1 M593.9,171.3 Q596.8,172.0 599.2,175.3 M559.0,162.2 Q559.8,162.3 559.6,164.0 M559.6,164.0 Q565.0,165.8 572.1,161.6 M572.1,161.6 Q574.1,161.7 576.2,163.2 M559.6,164.0 Q566.2,166.2 571.0,174.4 M571.0,174.4 Q572.6,175.5 575.2,175.4" fill="none" stroke="#86b5cf" stroke-width="1.25" stroke-linecap="round"/>
<path d="M548.0,160.0 Q548.0,160.0 548.0,160.0 M548.0,160.0 Q548.0,160.0 559.0,162.2" fill="none" stroke="#86b5cf" stroke-width="1.5" stroke-linecap="round"/>
<path d="M534,168 L497,171" fill="none" stroke="#cdb982" stroke-width="1.4"/>
<path d="M492.8,168.8 L490.3,165.1 M473.0,164.0 L470.6,164.9 M464.9,165.0 L460.4,164.0 M464.4,156.7 L462.8,153.6 M451.6,162.7 L448.1,164.9 M459.4,159.2 L456.5,155.8 M479.8,160.2 L479.2,156.1 M467.0,151.1 L463.3,151.6 M468.0,145.4 L464.2,145.0 M479.2,160.7 L478.2,158.3 M471.7,152.6 L470.6,149.0 M465.2,143.9 L464.9,141.4 M458.8,124.6 L459.3,121.8 M459.5,127.6 L457.8,125.0 M451.0,131.0 L451.0,126.5 M455.0,134.2 L451.8,132.0 M448.2,119.6 L446.1,117.3 M468.1,157.4 L466.0,155.5 M455.9,157.7 L452.7,160.3 M451.0,158.1 L448.0,159.8 M431.0,159.5 L427.9,162.0 M437.8,155.8 L436.0,152.9 M461.7,154.2 L459.2,150.3 M449.1,146.5 L447.1,142.9 M440.2,140.3 L437.4,139.2 M450.2,150.0 L446.0,151.5 M440.1,145.5 L435.8,146.8 M446.1,145.5 L441.4,146.3 M492.0,173.0 L488.8,172.9 M460.5,195.9 L457.1,196.9 M461.0,195.5 L457.2,195.8 M474.8,184.6 L470.7,185.8 M459.5,196.7 L457.6,200.8 M471.5,187.3 L469.9,191.2 M436.9,206.7 L432.5,205.4 M441.1,205.8 L436.6,204.3 M426.5,213.2 L426.2,218.0 M419.7,213.4 L418.2,216.4 M424.0,209.2 L422.2,211.1 M445.1,213.8 L444.1,217.7 M445.1,213.8 L442.0,214.9 M442.5,214.0 L441.0,217.2 M447.7,214.3 L447.4,217.0 M447.0,211.5 L444.5,213.7 M474.0,178.8 L471.2,179.3 M461.7,181.2 L459.4,184.3 M462.8,177.5 L459.8,176.5 M478.4,184.6 L475.2,185.6 M469.3,194.6 L465.4,194.9 M467.9,190.6 L464.0,190.7 M448.9,194.8 L447.0,197.6 M460.0,197.8 L457.5,198.7 M473.4,176.2 L470.2,178.5 M474.8,176.0 L470.8,174.5 M460.2,174.2 L457.6,173.9 M446.8,166.7 L444.0,163.4 M440.8,173.0 L437.1,174.1 M441.3,180.7 L438.8,183.4 M461.3,180.2 L459.4,183.4 M441.6,184.2 L439.4,182.4 M424.5,179.6 L420.5,180.4 M415.7,188.6 L412.5,188.6 M444.6,192.5 L441.7,196.0 M426.9,197.7 L422.3,196.6 M432.4,201.4 L429.7,201.2" fill="none" stroke="#cdb982" stroke-width="0.7" stroke-linecap="round"/>
<path d="M470.7,163.6 Q465.8,162.3 459.6,166.2 M469.5,162.9 Q467.8,162.4 468.5,159.1 M468.5,159.1 Q464.0,157.2 459.2,153.6 M468.5,159.1 Q465.8,158.0 462.1,158.0 M465.3,162.6 Q457.5,160.5 447.5,162.7 M463.8,161.6 Q457.7,159.8 451.4,154.7 M461.1,161.5 Q458.6,160.9 455.4,160.8 M461.1,161.5 Q460.7,161.4 460.4,161.0 M460.4,161.0 Q458.1,160.4 455.4,159.5 M460.4,161.0 Q457.8,160.3 454.6,159.6 M462.1,161.7 Q460.1,161.1 457.6,160.2 M457.6,160.2 Q455.0,159.5 452.2,157.9 M457.6,160.2 Q454.7,159.4 450.9,159.2 M464.1,149.8 Q460.8,147.7 455.6,148.2 M464.1,149.8 Q462.0,148.5 460.4,145.8 M460.4,145.8 Q458.1,144.2 454.6,143.3 M460.4,145.8 Q457.5,143.7 454.6,140.3 M474.8,154.4 Q472.5,152.7 473.3,148.2 M473.3,148.2 Q469.4,144.4 462.6,142.5 M473.3,148.2 Q470.4,145.4 469.6,140.1 M462.8,140.7 Q455.5,134.2 457.5,119.7 M455.5,139.7 Q450.7,136.1 449.4,127.9 M455.5,139.7 Q453.4,138.1 449.8,138.6 M449.8,138.6 Q446.5,136.3 441.4,135.6 M449.8,138.6 Q446.8,136.6 444.8,132.4 M452.2,130.1 Q447.9,126.1 447.5,117.8 M452.2,130.1 Q449.9,127.9 445.6,127.5 M445.6,127.5 Q443.1,125.4 441.1,121.7 M445.6,127.5 Q443.1,125.5 439.2,124.2 M466.0,157.0 Q455.8,152.5 441.3,158.7 M441.3,158.7 Q434.1,157.1 425.0,160.0 M441.3,158.7 Q436.6,157.7 433.0,152.0 M442.0,142.5 Q438.3,140.6 436.1,135.2 M439.2,142.3 Q435.8,140.6 430.9,141.5 M439.2,142.3 Q437.5,141.5 436.3,139.4 M436.3,139.4 Q433.2,137.8 430.0,134.8 M436.3,139.4 Q433.8,138.1 430.3,137.6 M454.3,150.0 Q450.2,148.0 444.2,150.0 M453.2,148.7 Q446.8,145.4 437.6,144.9 M451.1,146.7 Q447.3,144.7 441.9,144.4 M450.3,145.6 Q448.1,144.3 445.7,142.3 M450.3,145.6 Q449.7,145.2 448.9,145.1 M448.9,145.1 Q446.7,143.9 444.3,142.0 M448.9,145.1 Q446.4,143.8 443.2,142.6 M432.8,207.6 Q429.7,209.3 427.0,212.9 M429.8,208.9 Q424.1,212.1 421.0,220.5 M427.8,208.1 Q421.5,211.4 414.6,216.9 M427.8,208.1 Q427.1,208.4 426.2,208.1 M426.2,208.1 Q423.9,209.3 421.2,210.9 M426.2,208.1 Q422.3,210.1 417.5,212.5 M434.0,223.6 Q431.5,225.7 430.1,229.8 M434.0,223.6 Q432.8,224.7 430.8,225.0 M430.8,225.0 Q428.0,227.3 423.6,228.7 M430.8,225.0 Q428.3,227.1 426.5,230.7 M448.9,209.8 Q444.4,213.4 438.1,216.9 M438.1,216.9 Q435.9,218.6 432.8,220.2 M438.1,216.9 Q436.1,218.5 434.0,221.0 M448.9,209.8 Q448.5,210.1 449.9,210.4 M449.9,210.4 Q446.2,213.5 444.6,219.6 M449.9,210.4 Q446.3,213.5 440.0,214.0 M469.3,178.1 Q462.3,179.9 454.5,184.1 M469.3,178.1 Q468.9,178.2 469.2,177.3 M469.2,177.3 Q463.8,178.5 457.0,177.8 M469.2,177.3 Q466.0,178.0 462.9,180.9 M475.8,191.9 Q472.9,194.8 467.4,195.4 M474.7,194.3 Q472.2,196.9 471.2,201.4 M474.7,194.3 Q473.9,195.1 472.4,195.2 M472.4,195.2 Q470.0,197.7 466.5,200.1 M472.4,195.2 Q470.6,197.0 468.9,199.7 M464.2,192.3 Q461.2,194.3 456.4,190.6 M456.4,190.6 Q453.9,191.8 450.6,192.6 M456.4,190.6 Q451.7,192.9 446.4,196.3 M457.3,201.3 Q455.0,203.1 452.0,205.0 M457.3,201.3 Q455.2,202.9 452.7,205.0 M452.7,205.0 Q450.4,206.8 448.5,209.9 M452.7,205.0 Q450.0,207.1 446.0,208.5 M445.4,166.2 Q442.7,165.9 439.6,164.7 M445.4,166.2 Q444.4,166.1 443.2,166.4 M443.2,166.4 Q440.4,166.1 437.1,165.0 M443.2,166.4 Q440.5,166.1 437.1,166.7 M453.3,171.9 Q450.5,171.9 446.9,171.5 M453.3,171.9 Q451.0,171.9 448.1,172.2 M448.1,172.2 Q445.5,172.3 442.4,171.6 M448.1,172.2 Q444.3,172.3 439.8,173.1 M450.5,175.5 Q444.3,176.1 437.1,172.0 M437.1,172.0 Q434.2,172.1 430.8,170.8 M437.1,172.0 Q433.5,172.1 429.2,173.5 M449.8,177.6 Q442.5,178.6 434.4,183.1 M447.0,177.1 Q444.3,177.4 441.1,177.2 M447.0,177.1 Q445.9,177.2 444.7,177.6 M444.7,177.6 Q441.6,178.0 438.1,179.7 M444.7,177.6 Q441.8,178.0 438.1,177.2 M436.2,183.7 Q428.6,185.3 420.0,178.0 M431.8,186.5 Q430.0,186.9 429.6,190.0 M429.6,190.0 Q427.0,190.8 424.2,192.7 M429.6,190.0 Q425.8,191.1 420.8,191.4 M431.8,186.5 Q428.0,187.4 423.1,185.6 M423.1,185.6 Q418.6,186.5 413.8,189.4 M423.1,185.6 Q419.9,186.2 416.0,185.0 M446.7,190.4 Q443.0,191.8 438.0,190.3 M438.4,193.3 Q435.9,194.2 433.2,196.2 M438.4,193.3 Q437.4,193.6 436.1,193.7 M436.1,193.7 Q433.3,194.7 429.7,195.3 M436.1,193.7 Q433.6,194.6 431.0,196.4 M442.6,192.6 Q442.0,192.8 442.8,194.0 M442.8,194.0 Q440.2,195.1 436.7,195.3 M442.8,194.0 Q439.4,195.4 435.8,198.2 M437.3,196.2 Q432.4,198.3 425.5,197.8 M425.5,197.8 Q422.3,199.0 418.0,199.0 M425.5,197.8 Q422.5,199.0 419.6,201.7 M437.3,196.2 Q435.7,196.9 436.0,199.9 M436.0,199.9 Q433.5,201.1 430.8,203.2 M436.0,199.9 Q431.2,202.2 425.0,204.4" fill="none" stroke="#cdb982" stroke-width="1.0" stroke-linecap="round"/>
<path d="M484.6,165.7 Q478.8,163.3 470.7,163.6 M470.7,163.6 Q470.1,163.5 469.5,162.9 M469.5,162.9 Q467.7,162.4 465.3,162.6 M465.3,162.6 Q464.5,162.4 463.8,161.6 M463.8,161.6 Q463.1,161.4 462.1,161.7 M462.1,161.7 Q461.7,161.5 461.1,161.5 M484.6,165.7 Q478.4,163.1 474.8,154.4 M474.8,154.4 Q470.6,151.3 464.1,149.8 M476.2,158.7 Q467.6,153.5 462.8,140.7 M462.8,140.7 Q460.8,138.9 457.6,138.0 M457.6,138.0 Q456.6,137.3 455.5,139.7 M457.6,138.0 Q454.3,135.3 452.2,130.1 M476.2,158.7 Q472.2,156.3 466.0,157.0 M466.0,157.0 Q461.0,154.8 455.9,150.3 M455.9,150.3 Q449.5,147.1 442.0,142.5 M442.0,142.5 Q440.9,141.9 439.2,142.3 M455.9,150.3 Q455.2,150.0 454.3,150.0 M454.3,150.0 Q453.6,149.7 453.2,148.7 M453.2,148.7 Q452.1,148.1 451.1,146.7 M451.1,146.7 Q450.5,146.4 450.3,145.6 M486.9,175.1 Q467.6,183.0 450.4,203.8 M450.4,203.8 Q443.8,208.5 432.8,207.6 M432.8,207.6 Q431.5,208.3 429.8,208.9 M429.8,208.9 Q428.9,209.4 427.8,208.1 M450.4,203.8 Q448.2,205.4 449.6,209.9 M449.6,209.9 Q442.4,215.8 434.0,223.6 M449.6,209.9 Q449.4,210.1 448.9,209.8 M488.6,173.5 Q484.8,174.7 482.6,180.1 M482.6,180.1 Q477.5,183.4 469.3,178.1 M482.6,180.1 Q479.1,182.4 476.2,186.8 M476.2,186.8 Q474.4,188.2 475.8,191.9 M475.8,191.9 Q475.0,192.8 474.7,194.3 M476.2,186.8 Q471.5,190.4 464.2,192.3 M464.2,192.3 Q460.0,195.1 457.3,201.3 M465.0,177.7 Q460.9,178.6 457.5,172.2 M457.5,172.2 Q455.8,172.3 454.9,169.3 M454.9,169.3 Q450.4,169.2 445.4,166.2 M454.9,169.3 Q453.6,169.3 453.3,171.9 M457.5,172.2 Q454.0,172.3 450.5,175.5 M450.5,175.5 Q449.4,175.6 449.8,177.6 M449.8,177.6 Q448.5,177.8 447.0,177.1 M453.4,185.4 Q446.0,187.9 436.2,183.7 M436.2,183.7 Q433.9,184.2 431.8,186.5 M453.4,185.4 Q450.7,186.3 449.2,190.2 M449.2,190.2 Q448.2,190.6 446.7,190.4 M446.7,190.4 Q444.7,191.2 442.6,192.6 M442.6,192.6 Q440.8,193.3 438.4,193.3 M449.2,190.2 Q443.7,192.4 437.3,196.2" fill="none" stroke="#cdb982" stroke-width="1.25" stroke-linecap="round"/>
<path d="M484.1,164.1 Q483.4,163.7 484.6,165.7 M484.1,164.1 Q480.3,162.1 476.2,158.7 M488.6,173.5 Q478.3,176.6 465.0,177.7 M465.0,177.7 Q458.9,179.0 453.4,185.4" fill="none" stroke="#cdb982" stroke-width="1.5" stroke-linecap="round"/>
<path d="M497.0,171.0 Q497.0,171.0 497.0,171.0 M497.0,171.0 Q497.0,171.0 484.1,164.1 M497.0,171.0 Q497.0,171.0 486.9,175.1 M486.9,175.1 Q485.9,175.5 488.6,173.5" fill="none" stroke="#cdb982" stroke-width="1.75" stroke-linecap="round"/>
<path d="M536,156 L522,150" fill="none" stroke="#cfd2d3" stroke-width="1.4"/>
<path d="M513.9,143.2 L510.5,141.9 M513.5,142.8 L512.3,138.9 M502.3,133.4 L498.9,132.6 M499.7,131.2 L495.5,129.7 M479.0,121.5 L477.0,117.5 M479.6,109.7 L475.1,108.5 M480.0,110.0 L476.7,109.6 M513.7,142.3 L510.2,141.2 M507.2,137.3 L505.0,134.0 M510.1,132.9 L506.9,129.6 M502.3,126.7 L502.0,122.9 M500.9,123.7 L501.4,119.6 M494.4,133.4 L490.7,131.0 M494.3,126.2 L491.3,125.5 M518.8,145.8 L515.6,144.4 M505.9,155.2 L502.8,155.5 M498.8,160.1 L498.0,162.6 M495.6,159.3 L493.7,161.8 M507.2,148.8 L503.1,149.4 M503.5,151.7 L500.6,155.1 M491.8,145.7 L488.0,143.0 M492.6,152.8 L490.1,151.4" fill="none" stroke="#cfd2d3" stroke-width="0.7" stroke-linecap="round"/>
<path d="M490.7,123.6 Q487.9,121.3 482.5,123.7 M482.5,123.7 Q480.1,122.1 477.4,119.7 M482.5,123.7 Q477.0,120.0 470.0,116.0 M490.1,118.7 Q484.1,112.8 476.0,106.6 M490.1,118.7 Q489.3,117.9 488.8,116.7 M488.8,116.7 Q486.2,114.0 481.8,112.4 M488.8,116.7 Q486.4,114.2 485.0,110.0 M512.0,140.7 Q511.6,140.4 513.1,140.0 M513.1,140.0 Q509.9,136.5 503.5,135.6 M513.1,140.0 Q509.2,135.6 508.0,128.0 M507.1,137.0 Q499.6,130.4 497.7,116.8 M501.7,135.0 Q497.5,131.9 490.4,132.5 M501.7,135.0 Q500.3,134.0 500.1,131.6 M500.1,131.6 Q498.0,129.8 495.1,128.2 M500.1,131.6 Q496.2,128.4 491.9,124.0 M522.0,150.0 Q522.0,150.0 518.0,150.0 M521.5,149.7 Q516.4,146.4 513.7,138.5 M521.5,149.7 Q520.0,148.7 517.7,148.4 M517.7,148.4 Q513.9,147.0 510.4,143.3 M517.7,148.4 Q514.4,147.2 509.9,147.8 M501.1,157.8 Q496.7,159.5 493.5,165.2 M498.5,157.7 Q493.7,159.3 488.8,163.2 M498.5,157.7 Q497.9,157.9 497.2,157.2 M497.2,157.2 Q493.7,158.2 489.6,160.3 M497.2,157.2 Q494.7,157.9 491.4,158.0 M509.8,150.0 Q505.2,150.0 500.6,145.8 M506.2,150.4 Q502.0,150.5 497.7,154.5 M501.1,148.4 Q495.9,148.1 490.1,145.2 M501.1,148.4 Q500.6,148.4 500.2,149.3 M500.2,149.3 Q496.3,149.1 491.5,150.3 M500.2,149.3 Q497.4,149.2 494.1,147.7 M502.8,150.0 Q499.8,150.0 496.8,152.6 M496.8,152.6 Q494.1,152.9 490.9,153.9 M496.8,152.6 Q492.0,153.1 486.1,153.0" fill="none" stroke="#cfd2d3" stroke-width="1.0" stroke-linecap="round"/>
<path d="M522.0,150.0 Q522.0,150.0 490.7,123.6 M490.7,123.6 Q489.0,122.2 490.1,118.7 M522.0,150.0 Q522.0,150.0 512.0,140.7 M512.0,140.7 Q510.0,138.9 507.1,137.0 M507.1,137.0 Q505.2,135.3 501.7,135.0 M522.0,150.0 Q522.0,150.0 522.0,150.0 M522.0,150.0 Q522.0,150.0 521.5,149.7 M522.0,150.0 Q522.0,150.0 513.1,151.3 M513.1,151.3 Q507.0,152.2 501.1,157.8 M501.1,157.8 Q500.0,158.2 498.5,157.7 M513.1,151.3 Q511.5,151.5 509.8,150.0 M509.8,150.0 Q508.2,150.0 506.2,150.4 M506.2,150.4 Q504.7,150.4 502.8,150.0 M502.8,150.0 Q501.7,150.0 501.1,148.4" fill="none" stroke="#cfd2d3" stroke-width="1.25" stroke-linecap="round"/>
<path d="M522.0,150.0 Q522.0,150.0 522.0,150.0 M522.0,150.0 Q522.0,150.0 522.0,150.0 M522.0,150.0 Q522.0,150.0 522.0,150.0" fill="none" stroke="#cfd2d3" stroke-width="1.5" stroke-linecap="round"/>
<path d="M535,178 L522,186" fill="none" stroke="#cfd2d3" stroke-width="1.4"/>
<path d="M491.2,214.8 L490.3,218.0 M500.4,206.2 L496.6,207.0 M484.9,220.6 L483.9,223.1 M490.3,215.6 L489.3,219.6 M504.9,201.9 L503.9,204.5 M492.9,213.2 L491.3,217.2 M472.5,230.9 L469.9,231.3 M464.3,240.3 L459.8,242.1 M470.7,228.6 L467.6,231.0 M479.1,231.6 L475.9,233.3 M512.0,196.8 L511.1,199.2 M511.6,197.2 L507.4,199.0 M498.8,205.4 L494.3,204.6 M483.3,211.5 L481.9,213.6 M497.1,206.0 L494.4,205.6 M499.1,209.9 L497.8,213.1 M500.2,218.7 L497.5,220.1 M503.8,212.2 L501.4,213.7 M505.4,212.3 L504.0,215.0 M497.9,209.4 L493.4,209.4 M497.5,217.2 L497.1,221.4 M505.8,178.5 L502.9,178.2 M515.9,188.6 L513.5,191.8 M505.2,192.8 L501.7,192.0 M489.8,195.4 L486.5,192.9 M508.8,192.9 L505.6,193.5 M502.2,193.0 L500.7,195.8 M513.8,212.2 L510.1,215.2 M513.7,212.4 L513.7,216.1 M516.2,204.4 L514.2,206.0" fill="none" stroke="#cfd2d3" stroke-width="0.7" stroke-linecap="round"/>
<path d="M469.2,233.3 Q465.3,236.7 462.6,242.7 M469.2,233.3 Q468.6,233.8 467.6,233.1 M467.6,233.1 Q465.6,234.9 462.6,236.3 M467.6,233.1 Q464.6,235.7 461.5,239.5 M482.2,224.5 Q476.8,229.7 466.6,230.0 M480.7,228.7 Q476.8,232.8 474.7,239.7 M480.7,228.7 Q479.9,229.6 478.1,229.2 M478.1,229.2 Q476.2,231.1 474.6,234.1 M478.1,229.2 Q475.5,231.9 471.6,234.3 M507.1,202.1 Q497.3,212.6 477.4,213.9 M492.3,215.1 Q492.1,215.3 492.1,214.6 M492.1,214.6 Q490.0,216.6 488.5,220.0 M492.1,214.6 Q489.4,217.2 485.2,219.2 M492.3,215.1 Q491.2,216.2 490.2,218.0 M490.2,218.0 Q488.0,220.2 486.6,223.9 M490.2,218.0 Q487.5,220.6 483.2,222.6 M507.4,205.7 Q500.5,215.1 494.8,228.5 M506.7,205.8 Q502.0,211.9 503.5,222.6 M503.7,206.8 Q500.9,210.0 495.2,210.7 M503.7,206.8 Q501.4,209.5 499.8,213.6 M499.8,213.6 Q498.1,215.7 495.3,217.6 M499.8,213.6 Q497.2,216.9 494.9,221.4 M513.7,184.9 Q512.1,184.7 511.4,182.1 M511.4,182.1 Q506.6,180.4 501.9,175.9 M511.4,182.1 Q508.0,180.9 503.5,182.0 M506.8,185.4 Q504.1,185.3 501.1,187.4 M501.1,187.4 Q497.8,187.6 493.7,186.6 M501.1,187.4 Q498.2,187.5 494.9,189.0 M506.8,185.4 Q505.1,185.3 503.8,183.2 M503.8,183.2 Q500.7,182.7 497.4,180.7 M503.8,183.2 Q500.4,182.6 496.3,183.4 M497.4,195.7 Q493.3,197.3 487.8,195.3 M496.3,197.1 Q493.2,198.5 490.7,202.1 M496.3,197.1 Q494.5,197.9 492.0,198.0 M492.0,198.0 Q489.1,199.1 486.3,202.1 M492.0,198.0 Q488.5,199.4 483.7,199.4 M511.2,190.8 Q506.5,192.9 502.6,198.4 M502.6,198.4 Q499.9,200.2 495.8,200.9 M502.6,198.4 Q499.8,200.2 497.4,203.7 M508.4,191.0 Q506.8,191.6 506.3,194.3 M506.3,194.3 Q504.1,195.5 501.7,197.4 M506.3,194.3 Q503.4,195.9 499.5,197.3 M507.2,190.5 Q501.2,192.2 494.9,196.8 M506.5,190.1 Q503.8,190.8 500.8,192.6 M506.5,190.1 Q504.8,190.5 502.6,190.7 M502.6,190.7 Q499.7,191.4 496.4,193.2 M502.6,190.7 Q500.0,191.4 496.6,191.2 M522.0,186.0 Q522.0,186.0 518.0,187.8 M522.0,186.0 Q522.0,186.0 523.8,193.6 M522.0,186.0 Q522.0,186.0 521.1,188.1 M521.1,188.1 Q519.6,191.5 516.0,194.5 M521.1,188.1 Q519.7,191.4 519.9,196.0 M515.1,194.1 Q512.6,197.0 509.6,200.6 M509.6,200.6 Q507.3,203.3 504.1,206.2 M509.6,200.6 Q508.0,202.5 506.4,205.2 M515.1,194.1 Q515.0,194.2 515.4,193.7 M515.4,193.7 Q512.8,196.7 511.7,201.7 M515.4,193.7 Q512.9,196.6 508.2,198.3 M518.6,197.9 Q516.1,206.5 512.2,216.8 M518.6,197.9 Q518.3,199.0 518.2,200.5 M518.2,200.5 Q517.2,204.4 514.1,208.5 M518.2,200.5 Q517.4,203.6 518.3,207.7" fill="none" stroke="#cfd2d3" stroke-width="1.0" stroke-linecap="round"/>
<path d="M522.0,186.0 Q522.0,186.0 479.2,225.9 M479.2,225.9 Q475.1,229.8 469.2,233.3 M479.2,225.9 Q478.1,226.9 482.2,224.5 M482.2,224.5 Q480.7,225.9 480.7,228.7 M522.0,186.0 Q522.0,186.0 507.1,202.1 M507.1,202.1 Q506.1,203.2 505.6,205.0 M505.6,205.0 Q500.7,210.6 492.3,215.1 M505.6,205.0 Q505.0,205.6 507.4,205.7 M507.4,205.7 Q507.2,206.0 506.7,205.8 M506.7,205.8 Q505.8,207.0 503.7,206.8 M522.0,186.0 Q522.0,186.0 513.7,184.9 M513.7,184.9 Q510.6,184.6 506.8,185.4 M522.0,186.0 Q522.0,186.0 512.2,190.1 M512.2,190.1 Q505.7,192.9 497.4,195.7 M497.4,195.7 Q496.6,196.0 496.3,197.1 M512.2,190.1 Q511.7,190.3 511.2,190.8 M511.2,190.8 Q510.1,191.3 508.4,191.0 M508.4,191.0 Q507.9,191.2 507.2,190.5 M507.2,190.5 Q506.8,190.6 506.5,190.1 M522.0,186.0 Q522.0,186.0 522.0,186.0 M522.0,186.0 Q522.0,186.0 522.0,186.0 M522.0,186.0 Q522.0,186.0 522.0,186.0 M522.0,186.0 Q522.0,186.0 520.0,189.5 M520.0,189.5 Q518.6,192.2 515.1,194.1 M520.0,189.5 Q518.2,192.9 518.6,197.9" fill="none" stroke="#cfd2d3" stroke-width="1.25" stroke-linecap="round"/>
<path d="M522.0,186.0 Q522.0,186.0 522.0,186.0 M522.0,186.0 Q522.0,186.0 522.0,186.0" fill="none" stroke="#cfd2d3" stroke-width="1.5" stroke-linecap="round"/>
<path d="M522.0,186.0 Q522.0,186.0 522.0,186.0 M522.0,186.0 Q522.0,186.0 522.0,186.0" fill="none" stroke="#cfd2d3" stroke-width="1.75" stroke-linecap="round"/>
<path d="M542,199 L566,211" fill="none" stroke="#55a793" stroke-width="1.4"/>
<path d="M576.0,222.8 L578.6,223.9 M590.7,240.3 L593.5,241.7 M582.8,230.9 L583.5,234.5 M593.1,243.1 L596.8,244.3 M575.3,222.0 L578.2,223.2 M609.8,267.6 L613.8,270.0 M613.7,262.5 L617.1,264.0 M604.9,258.9 L609.0,261.0 M607.9,266.7 L610.2,269.7 M616.6,274.1 L619.5,276.9 M586.3,218.9 L588.4,221.5 M585.0,218.4 L588.5,221.5 M576.3,215.0 L578.2,217.0 M602.7,229.2 L603.7,233.2 M606.5,236.3 L606.4,239.8 M616.4,243.0 L618.5,244.5 M621.8,252.9 L624.1,254.3 M612.8,232.1 L617.3,233.0 M621.2,238.2 L622.3,240.5 M632.8,241.8 L636.5,240.7 M624.3,229.5 L627.1,232.3 M633.2,236.0 L635.0,239.5 M633.8,231.4 L636.4,231.2 M623.1,231.4 L625.3,235.0 M610.3,219.9 L613.7,220.1 M609.7,220.0 L612.3,220.4 M629.6,222.6 L633.2,225.3 M629.8,222.6 L632.6,224.8 M627.0,214.4 L630.9,212.7 M638.2,216.8 L640.9,216.5 M586.3,208.1 L589.5,206.2 M597.1,206.5 L599.8,207.0 M588.7,207.7 L590.9,206.3 M599.5,206.2 L601.5,204.5 M614.9,206.5 L617.3,208.0 M573.8,216.9 L575.8,220.8 M587.0,224.4 L591.1,223.7 M584.4,223.3 L586.9,226.9 M602.0,235.1 L605.4,236.4 M607.5,232.8 L611.8,232.6 M583.2,233.0 L585.3,236.1 M591.3,238.8 L594.1,239.7" fill="none" stroke="#55a793" stroke-width="0.7" stroke-linecap="round"/>
<path d="M603.6,260.0 Q607.2,264.7 611.9,270.2 M603.6,260.0 Q603.8,260.4 604.0,260.9 M604.0,260.9 Q606.3,263.9 609.2,267.6 M604.0,260.9 Q605.5,262.8 607.3,265.3 M605.1,252.1 Q605.8,252.9 605.1,254.5 M605.1,254.5 Q607.6,257.3 610.7,260.8 M605.1,254.5 Q606.7,256.3 608.8,258.5 M609.5,255.2 Q613.1,258.9 615.2,265.0 M609.5,255.2 Q610.3,256.0 611.8,255.8 M611.8,255.8 Q613.7,257.6 616.5,259.2 M611.8,255.8 Q614.2,258.1 616.5,261.5 M607.5,262.6 Q611.9,268.1 608.9,278.2 M613.8,267.6 Q615.0,269.0 617.9,268.2 M617.9,268.2 Q619.7,270.2 621.2,273.0 M617.9,268.2 Q620.3,270.8 623.7,273.4 M613.8,267.6 Q616.5,270.8 617.5,276.1 M617.5,276.1 Q619.8,279.1 624.3,281.1 M617.5,276.1 Q619.8,279.0 620.6,283.7 M608.6,241.1 Q612.0,243.5 617.6,243.3 M611.3,243.5 Q613.1,244.8 611.7,248.6 M611.7,248.6 Q613.6,250.1 616.1,251.8 M611.7,248.6 Q614.5,250.9 617.8,254.0 M616.2,244.7 Q620.8,247.8 623.2,254.9 M617.8,244.2 Q620.2,245.8 623.2,247.5 M617.8,244.2 Q619.4,245.3 621.4,246.6 M621.4,246.6 Q624.3,248.5 626.7,252.3 M621.4,246.6 Q624.4,248.5 628.8,249.1 M623.9,240.2 Q629.0,242.7 636.3,242.4 M636.3,242.4 Q639.1,243.7 643.0,243.7 M636.3,242.4 Q639.7,244.0 643.0,247.2 M625.8,243.1 Q626.5,243.5 627.6,242.4 M627.6,242.4 Q630.5,243.9 634.0,245.8 M627.6,242.4 Q629.7,243.5 632.4,244.7 M625.8,243.1 Q627.3,243.9 628.1,246.0 M628.1,246.0 Q631.0,247.6 635.1,248.5 M628.1,246.0 Q630.6,247.4 633.0,250.1 M626.2,230.1 Q630.9,231.6 634.6,237.3 M626.2,230.1 Q627.6,230.6 629.4,229.1 M629.4,229.1 Q632.6,230.0 636.6,229.1 M629.4,229.1 Q633.8,230.4 638.3,233.7 M614.1,226.6 Q614.9,226.8 615.6,227.6 M615.6,227.6 Q621.4,229.5 627.6,233.7 M615.6,227.6 Q618.7,228.6 622.9,227.8 M636.0,224.5 Q639.9,225.3 643.5,229.2 M643.5,229.2 Q647.0,230.0 651.5,229.0 M643.5,229.2 Q647.0,230.0 650.5,232.9 M637.1,222.7 Q640.7,223.2 644.1,226.6 M637.1,222.7 Q639.4,223.0 642.3,222.2 M642.3,222.2 Q646.2,222.8 651.0,223.4 M642.3,222.2 Q644.8,222.6 647.8,223.2 M620.2,214.3 Q623.7,214.6 627.8,216.1 M620.2,214.3 Q624.7,214.6 630.2,214.4 M630.2,214.4 Q633.7,214.6 637.8,212.3 M630.2,214.4 Q634.8,214.6 640.1,217.4 M566.0,211.0 Q566.0,211.0 604.0,205.5 M604.0,205.5 Q609.7,204.7 616.8,206.7 M604.0,205.5 Q607.7,205.0 611.3,201.5 M567.8,212.3 Q569.6,213.7 572.0,215.0 M572.0,215.0 Q575.3,217.1 580.4,217.6 M572.0,215.0 Q575.2,217.0 577.4,221.4 M597.6,229.0 Q601.2,231.1 603.1,236.4 M600.1,229.6 Q605.6,232.6 612.8,235.0 M600.0,229.9 Q603.3,231.8 608.4,231.4 M600.0,229.9 Q601.1,230.6 601.8,232.3 M601.8,232.3 Q604.2,233.7 607.6,234.5 M601.8,232.3 Q604.5,234.0 607.3,236.9 M581.3,226.1 Q586.5,231.2 585.5,241.6 M585.9,229.0 Q587.5,230.5 587.0,233.7 M587.0,233.7 Q589.9,236.8 593.0,240.9 M587.0,233.7 Q588.7,235.6 591.2,237.6 M589.4,229.8 Q592.3,232.1 597.2,232.7 M589.4,229.8 Q590.3,230.5 590.6,232.1 M590.6,232.1 Q592.5,233.8 595.3,235.3 M590.6,232.1 Q593.3,234.4 596.1,237.7" fill="none" stroke="#55a793" stroke-width="1.0" stroke-linecap="round"/>
<path d="M598.1,249.0 Q599.9,251.1 602.8,253.0 M602.8,253.0 Q604.9,255.4 603.6,260.0 M602.8,253.0 Q603.5,253.8 605.1,252.1 M605.1,252.1 Q606.8,253.9 609.5,255.2 M598.1,249.0 Q602.9,254.7 607.5,262.6 M607.5,262.6 Q609.8,265.4 613.8,267.6 M604.0,230.8 Q608.5,233.1 608.6,241.1 M608.6,241.1 Q610.0,242.0 611.3,243.5 M611.3,243.5 Q613.1,244.8 616.2,244.7 M616.2,244.7 Q616.8,245.2 617.8,244.2 M604.0,230.8 Q606.1,231.9 608.8,229.2 M608.8,229.2 Q616.6,232.5 623.9,240.2 M623.9,240.2 Q625.3,240.9 625.8,243.1 M608.8,229.2 Q611.3,230.2 614.1,226.6 M614.1,226.6 Q619.5,228.3 626.2,230.1 M597.3,223.2 Q605.3,226.3 615.8,218.4 M615.8,218.4 Q625.2,219.8 636.0,224.5 M636.0,224.5 Q637.0,224.7 637.1,222.7 M615.8,218.4 Q618.5,218.8 620.2,214.3 M567.8,212.3 Q573.0,216.2 579.4,221.1 M579.4,221.1 Q586.5,226.4 597.6,229.0 M597.6,229.0 Q598.6,229.6 600.1,229.6 M600.1,229.6 Q600.3,229.7 600.0,229.9 M579.4,221.1 Q581.3,222.5 581.3,226.1 M581.3,226.1 Q583.1,227.8 585.9,229.0 M585.9,229.0 Q587.1,230.1 589.4,229.8" fill="none" stroke="#55a793" stroke-width="1.25" stroke-linecap="round"/>
<path d="M566.0,211.0 Q566.0,211.0 598.1,249.0 M566.0,211.0 Q566.0,211.0 597.3,223.2 M597.3,223.2 Q601.6,224.9 604.0,230.8 M566.0,211.0 Q566.0,211.0 566.0,211.0 M566.0,211.0 Q566.0,211.0 567.8,212.3" fill="none" stroke="#55a793" stroke-width="1.5" stroke-linecap="round"/>
<path d="M566.0,211.0 Q566.0,211.0 566.0,211.0 M566.0,211.0 Q566.0,211.0 566.0,211.0" fill="none" stroke="#55a793" stroke-width="1.75" stroke-linecap="round"/>
<path d="M539,190 L556,196" fill="none" stroke="#cfd2d3" stroke-width="1.4"/>
<path d="M565.5,196.7 L568.9,195.4 M561.4,196.6 L564.5,195.9 M578.8,194.9 L581.3,194.7 M588.1,190.8 L590.7,187.1 M600.1,190.5 L604.2,189.6 M585.3,203.9 L588.8,204.2 M595.9,208.8 L598.4,210.7 M583.7,201.3 L587.5,202.8 M582.4,199.0 L585.9,201.2 M591.3,201.4 L593.3,204.2 M601.0,197.6 L604.0,195.5" fill="none" stroke="#cfd2d3" stroke-width="0.7" stroke-linecap="round"/>
<path d="M556.0,196.0 Q556.0,196.0 559.9,195.6 M559.9,195.6 Q563.9,195.2 568.1,192.1 M559.9,195.6 Q564.0,195.2 568.9,197.4 M572.3,197.8 Q581.3,198.8 590.7,189.7 M590.7,189.7 Q596.3,188.7 603.3,190.8 M590.7,189.7 Q594.6,189.0 598.2,184.9 M578.4,199.9 Q586.0,201.2 593.2,208.5 M593.2,208.5 Q597.5,210.0 603.3,209.4 M593.2,208.5 Q596.5,209.7 599.5,213.2 M577.9,198.8 Q579.6,199.0 580.7,201.3 M580.7,201.3 Q585.4,202.3 591.4,201.4 M580.7,201.3 Q583.9,202.0 587.1,204.8 M587.7,199.3 Q593.3,199.9 598.5,205.6 M589.8,198.7 Q590.1,198.8 589.4,198.1 M589.4,198.1 Q593.1,198.4 597.6,196.8 M589.4,198.1 Q592.6,198.3 596.2,200.4 M592.5,199.3 Q597.2,199.8 602.8,197.2 M592.5,199.3 Q593.6,199.4 594.4,200.8 M594.4,200.8 Q598.0,201.3 602.5,201.1 M594.4,200.8 Q597.0,201.1 600.0,202.2" fill="none" stroke="#cfd2d3" stroke-width="1.0" stroke-linecap="round"/>
<path d="M556.0,196.0 Q556.0,196.0 572.3,197.8 M572.3,197.8 Q575.2,198.1 578.4,199.9 M578.4,199.9 Q579.0,200.0 577.9,198.8 M577.9,198.8 Q582.3,199.3 587.7,199.3 M587.7,199.3 Q588.7,199.4 589.8,198.7 M589.8,198.7 Q591.0,198.8 592.5,199.3" fill="none" stroke="#cfd2d3" stroke-width="1.25" stroke-linecap="round"/>
<path d="M556.0,196.0 Q556.0,196.0 556.0,196.0" fill="none" stroke="#cfd2d3" stroke-width="1.5" stroke-linecap="round"/>
<path d="M542,208 L553,218" fill="none" stroke="#cfd2d3" stroke-width="1.4"/>
<path d="M563.7,231.9 L566.5,233.6 M558.0,224.5 L561.4,226.5 M570.4,243.1 L570.0,247.0 M561.6,227.2 L561.6,231.2" fill="none" stroke="#cfd2d3" stroke-width="0.7" stroke-linecap="round"/>
<path d="M567.6,236.9 Q571.4,241.8 573.2,249.5 M568.3,236.6 Q570.6,239.4 571.0,244.4 M568.3,236.6 Q569.3,237.8 571.4,238.5 M571.4,238.5 Q573.9,241.3 577.7,244.0 M571.4,238.5 Q573.2,240.6 574.6,243.7 M553.0,218.0 Q553.0,218.0 553.0,218.0 M553.0,218.0 Q553.0,218.0 554.5,224.4 M553.0,218.0 Q553.0,218.0 549.3,225.3 M553.6,218.9 Q555.1,221.2 554.9,225.0 M554.9,225.0 Q556.0,228.9 559.4,232.7 M554.9,225.0 Q555.9,228.5 554.7,233.0 M553.6,218.9 Q555.4,221.8 559.4,223.7 M559.4,223.7 Q562.5,226.4 564.2,231.4 M559.4,223.7 Q562.4,226.3 567.4,227.3" fill="none" stroke="#cfd2d3" stroke-width="1.0" stroke-linecap="round"/>
<path d="M553.0,218.0 Q553.0,218.0 553.0,218.0 M553.0,218.0 Q553.0,218.0 567.6,236.9 M567.6,236.9 Q567.8,237.2 568.3,236.6 M553.0,218.0 Q553.0,218.0 553.0,218.0 M553.0,218.0 Q553.0,218.0 553.6,218.9" fill="none" stroke="#cfd2d3" stroke-width="1.25" stroke-linecap="round"/>
<path d="M541,205 L546,222" fill="none" stroke="#9a9acd" stroke-width="1.4"/>
<path d="M557.2,240.6 L560.8,242.2 M558.2,242.1 L560.3,243.9 M557.1,240.3 L557.4,243.1 M568.6,255.1 L571.1,256.1 M568.9,255.4 L569.9,259.5 M583.3,265.7 L587.0,265.9 M580.0,267.2 L581.5,270.2 M584.6,279.1 L587.4,281.5 M571.2,269.3 L570.8,271.8 M573.8,275.3 L577.4,278.5 M567.2,260.2 L570.3,263.0 M570.4,267.4 L570.7,272.3 M582.8,289.2 L586.7,290.4 M581.8,297.8 L584.2,301.6 M584.5,298.1 L587.2,300.5 M580.5,289.8 L583.0,291.6 M589.0,307.6 L591.7,310.3 M592.6,317.0 L595.2,320.2 M542.7,248.3 L544.1,251.9 M541.1,261.2 L538.6,265.4 M536.8,296.0 L534.1,299.6 M541.7,256.3 L539.1,259.8 M541.2,260.6 L538.2,264.0 M538.0,286.5 L539.3,291.4 M542.3,251.7 L543.1,254.9 M543.3,243.8 L544.5,248.6 M541.4,258.6 L543.3,263.2 M531.4,319.0 L532.5,322.9 M530.0,323.5 L530.4,326.4 M537.0,308.7 L538.3,311.5 M537.8,319.8 L540.3,323.6 M549.3,240.8 L552.1,244.2 M551.2,254.0 L549.9,257.5 M552.1,271.9 L553.6,275.7 M551.8,265.5 L553.0,268.0 M554.3,288.6 L557.1,291.3 M549.7,292.3 L551.6,294.4 M551.0,299.3 L549.6,303.5 M549.4,294.5 L550.9,297.7 M563.5,254.3 L566.8,254.1 M570.4,260.6 L571.5,263.5 M559.7,262.5 L562.2,263.9 M566.5,274.9 L569.8,277.4 M563.6,269.6 L564.3,273.6 M572.2,284.1 L573.1,287.1 M552.1,270.4 L550.1,273.7 M555.5,272.5 L558.2,276.3 M562.3,269.5 L564.0,271.7 M542.1,240.7 L538.6,243.2 M537.0,261.4 L538.3,265.9 M537.2,260.5 L538.1,264.5 M535.1,271.2 L536.0,274.0 M529.7,279.1 L526.7,279.8 M536.3,289.6 L535.4,294.1 M533.6,292.8 L536.6,296.8 M528.2,255.7 L526.1,260.1 M528.4,255.6 L527.3,258.6 M519.3,262.5 L516.7,262.8 M523.2,269.0 L521.3,271.0 M538.4,257.5 L535.6,259.9 M537.1,271.8 L539.1,274.2 M529.1,270.2 L528.5,274.7 M534.2,268.6 L533.0,270.8 M545.0,253.1 L544.2,256.2 M549.1,268.3 L550.6,270.7 M536.6,262.8 L537.3,267.5 M526.8,240.9 L525.3,244.2 M526.0,241.8 L524.9,244.0 M531.4,236.4 L528.2,237.2 M529.2,238.5 L525.0,240.6 M528.8,239.0 L524.8,239.7 M500.7,255.5 L498.7,257.5 M500.9,255.4 L498.7,256.9 M505.8,255.5 L501.1,255.6 M506.7,259.0 L504.3,263.1 M495.4,269.8 L494.8,273.4 M511.1,258.5 L511.2,261.8 M497.2,268.8 L493.5,268.4 M495.6,269.5 L493.2,272.1 M497.1,279.1 L494.6,281.1 M532.9,226.8 L530.3,226.4 M530.4,227.7 L528.2,229.6 M519.2,232.8 L517.2,234.4 M521.8,230.4 L519.6,231.8 M508.4,232.0 L505.2,235.6 M546.4,229.8 L544.2,233.6" fill="none" stroke="#9a9acd" stroke-width="0.7" stroke-linecap="round"/>
<path d="M576.5,262.6 Q580.6,268.1 590.3,269.0 M576.4,264.2 Q580.6,270.0 588.7,274.3 M588.7,274.3 Q590.4,276.5 593.3,278.3 M588.7,274.3 Q590.9,277.1 592.8,281.1 M576.0,267.8 Q578.0,271.0 577.7,276.0 M576.0,267.8 Q577.6,270.3 580.6,272.4 M580.6,272.4 Q582.1,274.6 584.4,276.9 M580.6,272.4 Q583.2,276.1 585.8,281.0 M579.9,287.2 Q582.1,291.4 588.5,293.3 M579.9,287.2 Q581.4,290.0 581.1,294.2 M581.1,294.2 Q582.8,297.7 587.3,300.2 M581.1,294.2 Q583.2,298.5 583.0,304.7 M587.5,304.3 Q589.1,307.5 592.0,310.9 M587.5,304.3 Q589.5,308.2 591.5,313.3 M591.5,313.3 Q594.3,318.9 595.4,326.6 M591.5,313.3 Q593.0,316.4 596.9,318.7 M535.6,305.3 Q534.1,317.2 527.7,330.8 M536.9,305.8 Q536.5,309.7 533.2,313.6 M536.9,305.8 Q536.4,310.0 537.2,315.2 M537.2,315.2 Q536.7,319.9 538.6,325.7 M537.2,315.2 Q536.8,318.6 534.1,322.3 M552.3,277.3 Q552.5,278.5 552.0,280.0 M552.0,280.0 Q552.3,283.0 551.0,286.6 M552.0,280.0 Q552.4,284.5 554.6,289.8 M556.6,283.8 Q556.9,285.7 560.0,286.2 M560.0,286.2 Q560.6,288.5 561.3,291.3 M560.0,286.2 Q560.7,289.2 561.4,292.9 M556.0,288.8 Q556.1,289.7 555.0,290.6 M555.0,290.6 Q555.4,294.2 556.3,298.5 M555.0,290.6 Q555.3,293.1 555.4,296.1 M556.0,288.8 Q556.4,291.2 558.0,293.9 M558.0,293.9 Q558.6,297.5 557.2,302.0 M558.0,293.9 Q558.7,297.6 561.5,301.5 M548.4,285.0 Q548.8,295.2 552.4,307.2 M547.6,287.6 Q547.6,291.5 544.5,295.7 M547.6,287.6 Q547.6,289.6 549.1,291.8 M549.1,291.8 Q549.2,294.4 548.9,297.5 M549.1,291.8 Q549.3,295.9 550.0,301.0 M555.9,251.1 Q557.5,255.7 566.0,255.3 M566.0,255.3 Q568.6,259.7 573.3,263.9 M566.0,255.3 Q567.6,258.0 567.8,262.0 M555.9,255.5 Q559.4,267.2 569.0,279.4 M569.0,279.4 Q570.8,283.9 575.1,288.2 M569.0,279.4 Q570.2,282.6 569.4,287.1 M552.7,266.5 Q553.5,271.6 551.0,277.9 M552.7,266.5 Q552.9,267.3 554.4,267.4 M554.4,267.4 Q554.8,270.0 555.0,273.2 M554.4,267.4 Q555.2,272.1 556.6,277.7 M561.3,265.1 Q562.5,268.6 566.5,271.5 M561.3,265.1 Q562.8,269.5 563.5,275.2 M563.5,275.2 Q564.2,277.4 565.0,280.1 M563.5,275.2 Q564.3,277.7 565.4,280.7 M534.5,274.3 Q533.1,280.2 525.0,284.0 M534.1,281.2 Q533.2,285.6 536.6,290.9 M533.0,282.4 Q531.4,289.7 533.9,298.9 M531.1,284.9 Q530.4,287.7 528.4,290.7 M531.1,284.9 Q530.7,286.6 530.8,288.7 M530.8,288.7 Q530.3,291.0 529.4,293.8 M530.8,288.7 Q530.2,291.5 529.6,295.1 M526.5,257.6 Q524.2,261.7 517.8,263.5 M526.5,257.6 Q524.8,260.7 524.6,265.2 M524.6,265.2 Q523.4,267.6 521.2,270.1 M524.6,265.2 Q522.7,269.1 521.2,274.2 M536.5,261.7 Q534.6,269.3 537.6,279.0 M536.5,261.7 Q536.1,263.0 533.9,263.3 M533.9,263.3 Q532.6,267.8 528.0,271.7 M533.9,263.3 Q532.7,267.5 534.5,273.0 M544.3,250.6 Q544.0,255.3 547.1,260.6 M547.1,260.6 Q547.3,265.0 549.5,270.1 M547.1,260.6 Q547.2,263.9 545.3,267.7 M544.3,250.6 Q544.2,252.4 541.0,253.0 M541.0,253.0 Q540.1,258.8 535.6,265.0 M541.0,253.0 Q540.4,256.9 543.0,261.7 M512.4,252.7 Q505.4,259.0 492.1,257.5 M510.4,255.6 Q509.5,256.4 508.3,254.2 M508.3,254.2 Q504.9,257.1 499.5,258.8 M508.3,254.2 Q505.7,256.4 504.3,260.5 M508.7,259.7 Q506.4,262.0 505.1,266.1 M506.7,261.1 Q505.7,262.1 503.6,261.2 M503.6,261.2 Q500.7,263.8 497.5,267.4 M503.6,261.2 Q501.7,262.9 499.2,264.7 M506.7,261.1 Q505.5,262.2 506.1,264.7 M506.1,264.7 Q503.5,267.5 499.5,270.1 M506.1,264.7 Q504.2,266.7 502.8,269.9 M509.1,257.8 Q505.9,260.9 500.2,262.3 M500.2,262.3 Q497.3,264.9 492.0,265.4 M500.2,262.3 Q496.5,265.5 494.3,271.6 M507.9,264.1 Q500.6,272.1 485.8,273.8 M505.1,269.5 Q503.7,271.2 505.3,274.5 M505.3,274.5 Q503.4,276.9 500.2,279.0 M505.3,274.5 Q503.4,276.9 502.2,280.6 M500.4,271.6 Q497.5,274.8 496.5,280.4 M500.4,271.6 Q499.6,272.5 497.9,272.3 M497.9,272.3 Q495.7,274.7 494.0,278.4 M497.9,272.3 Q495.8,274.5 492.3,276.2 M526.7,229.1 Q525.4,229.6 525.2,231.8 M525.2,231.8 Q521.2,233.6 515.5,233.5 M525.2,231.8 Q521.9,233.3 519.3,237.4 M516.6,231.7 Q514.6,232.4 513.6,235.2 M513.6,235.2 Q510.5,236.4 506.3,236.6 M513.6,235.2 Q510.7,236.4 507.9,239.0 M516.6,231.7 Q515.2,232.2 513.5,230.3 M513.5,230.3 Q509.1,231.5 503.8,233.5 M513.5,230.3 Q510.9,231.0 507.6,231.1 M546.0,222.0 Q546.0,222.0 546.8,237.0 M546.8,237.0 Q547.0,240.9 549.5,245.4 M546.8,237.0 Q547.0,240.5 545.0,244.6 M546.0,222.0 Q546.0,222.0 546.0,222.0 M546.0,222.0 Q546.0,222.0 538.7,222.8 M546.0,222.0 Q546.0,222.0 538.6,217.3" fill="none" stroke="#9a9acd" stroke-width="1.0" stroke-linecap="round"/>
<path d="M546.0,222.0 Q546.0,222.0 562.5,249.3 M562.5,249.3 Q567.0,256.7 576.5,262.6 M576.5,262.6 Q576.9,263.2 576.4,264.2 M576.4,264.2 Q577.4,265.6 576.0,267.8 M562.5,249.3 Q571.0,263.4 577.1,282.7 M577.1,282.7 Q578.1,284.9 579.9,287.2 M577.1,282.7 Q582.0,292.3 587.5,304.3 M546.0,222.0 Q546.0,222.0 535.6,305.3 M535.6,305.3 Q535.5,305.9 536.9,305.8 M550.8,246.1 Q553.6,259.9 552.3,277.3 M552.3,277.3 Q552.4,278.1 552.6,279.0 M552.6,279.0 Q553.0,281.8 556.6,283.8 M556.6,283.8 Q557.0,286.0 556.0,288.8 M552.6,279.0 Q553.0,282.3 548.4,285.0 M548.4,285.0 Q548.4,286.2 547.6,287.6 M550.8,246.1 Q551.5,249.3 555.9,251.1 M555.9,251.1 Q556.6,253.0 555.9,255.5 M555.9,255.5 Q556.5,257.5 555.7,260.2 M555.7,260.2 Q556.5,263.2 552.7,266.5 M555.7,260.2 Q556.5,263.4 561.3,265.1 M540.2,245.9 Q537.1,258.5 534.5,274.3 M534.5,274.3 Q533.8,277.3 534.1,281.2 M534.1,281.2 Q534.0,282.0 533.0,282.4 M533.0,282.4 Q532.7,283.8 531.1,284.9 M540.2,245.9 Q539.9,247.1 540.4,242.9 M540.4,242.9 Q538.1,251.7 526.5,257.6 M540.4,242.9 Q539.6,246.0 542.0,249.8 M542.0,249.8 Q541.1,255.6 536.5,261.7 M542.0,249.8 Q541.8,250.9 544.3,250.6 M513.9,253.7 Q513.3,254.2 512.4,252.7 M512.4,252.7 Q511.2,253.8 510.4,255.6 M510.4,255.6 Q509.6,256.4 509.1,257.8 M509.1,257.8 Q508.4,258.4 508.7,259.7 M508.7,259.7 Q507.9,260.5 506.7,261.1 M513.9,253.7 Q510.1,257.5 507.9,264.1 M507.9,264.1 Q506.0,266.1 505.1,269.5 M505.1,269.5 Q503.6,271.3 500.4,271.6 M546.0,222.0 Q546.0,222.0 546.0,222.0 M546.0,222.0 Q546.0,222.0 526.7,229.1 M526.7,229.1 Q522.3,230.7 516.6,231.7 M546.0,222.0 Q546.0,222.0 546.0,222.0" fill="none" stroke="#9a9acd" stroke-width="1.25" stroke-linecap="round"/>
<path d="M546.2,229.8 Q546.5,237.4 550.8,246.1 M546.2,229.8 Q546.5,237.5 540.2,245.9 M546.0,222.0 Q546.0,222.0 546.0,222.0 M546.0,222.0 Q546.0,222.0 513.9,253.7" fill="none" stroke="#9a9acd" stroke-width="1.5" stroke-linecap="round"/>
<path d="M546.0,222.0 Q546.0,222.0 546.0,222.0 M546.0,222.0 Q546.0,222.0 546.0,222.0 M546.0,222.0 Q546.0,222.0 546.0,222.0 M546.0,222.0 Q546.0,222.0 546.2,229.8" fill="none" stroke="#9a9acd" stroke-width="1.75" stroke-linecap="round"/>
<rect x="414.6" y="247" width="42.8" height="4.8" fill="#3e5876"/>
<text x="436" y="250.8" font-size="3.6" fill="#fff" style="stroke:none" text-anchor="middle" font-weight="bold">Atypical Protein Kinases</text>
<text x="420" y="261.1" font-size="3.3" fill="#444" style="stroke:none" text-anchor="end">ABC1</text>
<line x1="421.5" y1="255.5" x2="421.5" y2="264.5" stroke="#7f8fa6" stroke-width="0.5"/>
<line x1="426" y1="255.5" x2="445" y2="255.5" stroke="#7f8fa6" stroke-width="0.5"/>
<line x1="421.5" y1="258" x2="450" y2="258" stroke="#7f8fa6" stroke-width="0.5"/>
<line x1="436" y1="262" x2="451" y2="262" stroke="#7f8fa6" stroke-width="0.5"/>
<line x1="421.5" y1="264.5" x2="440" y2="264.5" stroke="#7f8fa6" stroke-width="0.5"/>
<text x="420" y="276.2" font-size="3.3" fill="#444" style="stroke:none" text-anchor="end">Alpha</text>
<line x1="421.5" y1="269.5" x2="421.5" y2="280" stroke="#7f8fa6" stroke-width="0.5"/>
<line x1="436" y1="269.5" x2="451" y2="269.5" stroke="#7f8fa6" stroke-width="0.5"/>
<line x1="422" y1="272" x2="440" y2="272" stroke="#7f8fa6" stroke-width="0.5"/>
<line x1="422" y1="274.5" x2="437" y2="274.5" stroke="#7f8fa6" stroke-width="0.5"/>
<line x1="429" y1="277.5" x2="448" y2="277.5" stroke="#7f8fa6" stroke-width="0.5"/>
<line x1="429" y1="280" x2="446" y2="280" stroke="#7f8fa6" stroke-width="0.5"/>
<text x="420" y="291.0" font-size="3.3" fill="#444" style="stroke:none" text-anchor="end">Bcr</text>
<line x1="421.5" y1="285" x2="421.5" y2="292.5" stroke="#7f8fa6" stroke-width="0.5"/>
<line x1="422" y1="285" x2="447" y2="285" stroke="#7f8fa6" stroke-width="0.5"/>
<line x1="422" y1="287.5" x2="450" y2="287.5" stroke="#7f8fa6" stroke-width="0.5"/>
<line x1="422" y1="290" x2="451" y2="290" stroke="#7f8fa6" stroke-width="0.5"/>
<line x1="422" y1="292.5" x2="452" y2="292.5" stroke="#7f8fa6" stroke-width="0.5"/>
<text x="420" y="302.3" font-size="3.3" fill="#444" style="stroke:none" text-anchor="end">PDHK</text>
<line x1="421.5" y1="296" x2="421.5" y2="306.5" stroke="#7f8fa6" stroke-width="0.5"/>
<line x1="421.5" y1="296" x2="442" y2="296" stroke="#7f8fa6" stroke-width="0.5"/>
<line x1="421.5" y1="299" x2="442" y2="299" stroke="#7f8fa6" stroke-width="0.5"/>
<line x1="421.5" y1="301.5" x2="444" y2="301.5" stroke="#7f8fa6" stroke-width="0.5"/>
<line x1="425" y1="304" x2="446" y2="304" stroke="#7f8fa6" stroke-width="0.5"/>
<line x1="425" y1="306.5" x2="452" y2="306.5" stroke="#7f8fa6" stroke-width="0.5"/>
<text x="420" y="316.8" font-size="3.3" fill="#444" style="stroke:none" text-anchor="end">PIKK</text>
<line x1="421.5" y1="309" x2="421.5" y2="320" stroke="#7f8fa6" stroke-width="0.5"/>
<line x1="431" y1="309" x2="452" y2="309" stroke="#7f8fa6" stroke-width="0.5"/>
<line x1="431" y1="311.5" x2="452" y2="311.5" stroke="#7f8fa6" stroke-width="0.5"/>
<line x1="422" y1="314" x2="442" y2="314" stroke="#7f8fa6" stroke-width="0.5"/>
<line x1="422" y1="317" x2="444" y2="317" stroke="#7f8fa6" stroke-width="0.5"/>
<line x1="422" y1="320" x2="448" y2="320" stroke="#7f8fa6" stroke-width="0.5"/>
<text x="420" y="328.2" font-size="3.3" fill="#444" style="stroke:none" text-anchor="end">RIO</text>
<line x1="421.5" y1="323" x2="421.5" y2="328.5" stroke="#7f8fa6" stroke-width="0.5"/>
<line x1="424" y1="323" x2="447" y2="323" stroke="#7f8fa6" stroke-width="0.5"/>
<line x1="424" y1="326" x2="436" y2="326" stroke="#7f8fa6" stroke-width="0.5"/>
<line x1="424" y1="328.5" x2="449" y2="328.5" stroke="#7f8fa6" stroke-width="0.5"/>
<text x="420" y="337.0" font-size="3.3" fill="#444" style="stroke:none" text-anchor="end">TIF1</text>
<line x1="421.5" y1="333.5" x2="421.5" y2="336.5" stroke="#7f8fa6" stroke-width="0.5"/>
<line x1="422" y1="333.5" x2="440" y2="333.5" stroke="#7f8fa6" stroke-width="0.5"/>
<line x1="422" y1="336.5" x2="452" y2="336.5" stroke="#7f8fa6" stroke-width="0.5"/>
<circle cx="440.0" cy="15.6" r="2.65" fill="#e2302b"/>
<circle cx="469.0" cy="11.4" r="2.65" fill="#e2302b"/>
<circle cx="493.8" cy="6.7" r="2.65" fill="#e2302b"/>
<circle cx="471.0" cy="19.9" r="2.65" fill="#e2302b"/>
<circle cx="472.1" cy="23.8" r="2.65" fill="#e2302b"/>
<circle cx="476.1" cy="33.9" r="2.65" fill="#e2302b"/>
<circle cx="474.5" cy="41.7" r="2.65" fill="#e2302b"/>
<circle cx="472.1" cy="42.1" r="2.65" fill="#e2302b"/>
<circle cx="492.8" cy="26.2" r="2.65" fill="#e2302b"/>
<circle cx="487.0" cy="29.4" r="2.65" fill="#e2302b"/>
<circle cx="490.4" cy="37.8" r="2.65" fill="#e2302b"/>
<circle cx="430.0" cy="40.1" r="2.65" fill="#e2302b"/>
<circle cx="441.1" cy="61.2" r="2.65" fill="#e2302b"/>
<circle cx="436.0" cy="81.1" r="2.65" fill="#e2302b"/>
<circle cx="502.5" cy="23.1" r="2.65" fill="#e2302b"/>
<circle cx="502.2" cy="31.0" r="2.65" fill="#e2302b"/>
<circle cx="509.6" cy="45.8" r="2.65" fill="#e2302b"/>
<circle cx="512.8" cy="46.9" r="2.65" fill="#e2302b"/>
<circle cx="512.8" cy="56.0" r="2.65" fill="#e2302b"/>
<circle cx="515.2" cy="56.0" r="2.65" fill="#e2302b"/>
<circle cx="518.1" cy="59.1" r="2.65" fill="#e2302b"/>
<circle cx="531.4" cy="55.6" r="2.65" fill="#e2302b"/>
<circle cx="533.0" cy="58.5" r="2.65" fill="#e2302b"/>
<circle cx="437.9" cy="87.6" r="2.65" fill="#e2302b"/>
<circle cx="453.0" cy="90.8" r="2.65" fill="#e2302b"/>
<circle cx="454.1" cy="92.7" r="2.65" fill="#e2302b"/>
<circle cx="578.8" cy="52.1" r="2.65" fill="#e2302b"/>
<circle cx="541.0" cy="80.3" r="2.65" fill="#e2302b"/>
<circle cx="590.6" cy="39.5" r="2.65" fill="#e2302b"/>
<circle cx="595.3" cy="42.4" r="2.65" fill="#e2302b"/>
<circle cx="588.5" cy="90.1" r="2.65" fill="#e2302b"/>
<circle cx="586.9" cy="100.0" r="2.65" fill="#e2302b"/>
<circle cx="536.2" cy="113.9" r="2.65" fill="#e2302b"/>
<circle cx="603.3" cy="98.0" r="2.65" fill="#e2302b"/>
<circle cx="607.3" cy="99.2" r="2.65" fill="#e2302b"/>
<circle cx="620.0" cy="111.9" r="2.65" fill="#e2302b"/>
<circle cx="629.5" cy="108.2" r="2.65" fill="#e2302b"/>
<circle cx="630.3" cy="111.1" r="2.65" fill="#e2302b"/>
<circle cx="646.2" cy="107.9" r="2.65" fill="#e2302b"/>
<circle cx="648.6" cy="111.1" r="2.65" fill="#e2302b"/>
<circle cx="627.9" cy="114.0" r="2.65" fill="#e2302b"/>
<circle cx="586.9" cy="118.3" r="2.65" fill="#e2302b"/>
<circle cx="637.8" cy="130.3" r="2.65" fill="#e2302b"/>
<circle cx="612.5" cy="137.3" r="2.65" fill="#e2302b"/>
<circle cx="631.1" cy="144.7" r="2.65" fill="#e2302b"/>
<circle cx="600.1" cy="158.5" r="2.65" fill="#e2302b"/>
<circle cx="585.8" cy="159.6" r="2.65" fill="#e2302b"/>
<circle cx="578.5" cy="115.8" r="2.65" fill="#e2302b"/>
<circle cx="575.3" cy="123.2" r="2.65" fill="#e2302b"/>
<circle cx="565.0" cy="125.8" r="2.65" fill="#e2302b"/>
<circle cx="608.1" cy="174.4" r="2.65" fill="#e2302b"/>
<circle cx="454.6" cy="143.3" r="2.65" fill="#e2302b"/>
<circle cx="430.8" cy="170.8" r="2.65" fill="#e2302b"/>
<circle cx="441.1" cy="177.2" r="2.65" fill="#e2302b"/>
<circle cx="457.0" cy="177.8" r="2.65" fill="#e2302b"/>
<circle cx="413.8" cy="189.4" r="2.65" fill="#e2302b"/>
<circle cx="429.7" cy="195.3" r="2.65" fill="#e2302b"/>
<circle cx="430.8" cy="203.2" r="2.65" fill="#e2302b"/>
<circle cx="423.6" cy="228.7" r="2.65" fill="#e2302b"/>
<circle cx="490.4" cy="132.5" r="2.65" fill="#e2302b"/>
<circle cx="489.6" cy="160.3" r="2.65" fill="#e2302b"/>
<circle cx="488.8" cy="163.2" r="2.65" fill="#e2302b"/>
<circle cx="496.4" cy="193.2" r="2.65" fill="#e2302b"/>
<circle cx="495.8" cy="200.9" r="2.65" fill="#e2302b"/>
<circle cx="511.7" cy="201.7" r="2.65" fill="#e2302b"/>
<circle cx="568.1" cy="192.1" r="2.65" fill="#e2302b"/>
<circle cx="580.4" cy="217.6" r="2.65" fill="#e2302b"/>
<circle cx="616.8" cy="206.7" r="2.65" fill="#e2302b"/>
<circle cx="644.1" cy="226.6" r="2.65" fill="#e2302b"/>
<circle cx="651.5" cy="229.0" r="2.65" fill="#e2302b"/>
<circle cx="607.6" cy="234.5" r="2.65" fill="#e2302b"/>
<circle cx="643.0" cy="247.2" r="2.65" fill="#e2302b"/>
<circle cx="633.0" cy="250.1" r="2.65" fill="#e2302b"/>
<circle cx="626.7" cy="252.3" r="2.65" fill="#e2302b"/>
<circle cx="609.2" cy="267.6" r="2.65" fill="#e2302b"/>
<circle cx="538.7" cy="222.8" r="2.65" fill="#e2302b"/>
<circle cx="554.5" cy="224.4" r="2.65" fill="#e2302b"/>
<circle cx="564.2" cy="231.4" r="2.65" fill="#e2302b"/>
<circle cx="497.5" cy="267.4" r="2.65" fill="#e2302b"/>
<circle cx="499.5" cy="270.1" r="2.65" fill="#e2302b"/>
<circle cx="549.5" cy="270.1" r="2.65" fill="#e2302b"/>
<circle cx="551.0" cy="277.9" r="2.65" fill="#e2302b"/>
<circle cx="573.3" cy="263.9" r="2.65" fill="#e2302b"/>
<circle cx="565.0" cy="280.1" r="2.65" fill="#e2302b"/>
<circle cx="561.3" cy="291.3" r="2.65" fill="#e2302b"/>
<circle cx="550.0" cy="301.0" r="2.65" fill="#e2302b"/>
<circle cx="557.2" cy="302.0" r="2.65" fill="#e2302b"/>
<circle cx="584.4" cy="276.9" r="2.65" fill="#e2302b"/>
<circle cx="593.3" cy="278.3" r="2.65" fill="#e2302b"/>
<circle cx="592.8" cy="281.1" r="2.65" fill="#e2302b"/>
<circle cx="592.0" cy="310.9" r="2.65" fill="#e2302b"/>
<circle cx="450.5" cy="260.1" r="2.65" fill="#e2302b"/>
<circle cx="450.5" cy="262.5" r="2.65" fill="#e2302b"/>
<circle cx="434.7" cy="29.1" r="2.65" fill="#7a3fbf"/>
<circle cx="441.6" cy="33.7" r="2.65" fill="#7a3fbf"/>
<circle cx="493.5" cy="30.2" r="2.65" fill="#7a3fbf"/>
<circle cx="488.8" cy="40.5" r="2.65" fill="#7a3fbf"/>
<circle cx="423.6" cy="46.1" r="2.65" fill="#7a3fbf"/>
<circle cx="423.3" cy="48.5" r="2.65" fill="#7a3fbf"/>
<circle cx="440.8" cy="49.0" r="2.65" fill="#7a3fbf"/>
<circle cx="456.2" cy="51.4" r="2.65" fill="#7a3fbf"/>
<circle cx="465.4" cy="60.4" r="2.65" fill="#7a3fbf"/>
<circle cx="462.6" cy="77.9" r="2.65" fill="#7a3fbf"/>
<circle cx="434.0" cy="84.3" r="2.65" fill="#7a3fbf"/>
<circle cx="517.6" cy="38.2" r="2.65" fill="#7a3fbf"/>
<circle cx="524.7" cy="48.5" r="2.65" fill="#7a3fbf"/>
<circle cx="434.7" cy="84.8" r="2.65" fill="#7a3fbf"/>
<circle cx="462.6" cy="80.0" r="2.65" fill="#7a3fbf"/>
<circle cx="555.7" cy="64.4" r="2.65" fill="#7a3fbf"/>
<circle cx="548.6" cy="76.3" r="2.65" fill="#7a3fbf"/>
<circle cx="557.3" cy="82.7" r="2.65" fill="#7a3fbf"/>
<circle cx="586.6" cy="72.1" r="2.65" fill="#7a3fbf"/>
<circle cx="589.5" cy="74.2" r="2.65" fill="#7a3fbf"/>
<circle cx="596.1" cy="69.4" r="2.65" fill="#7a3fbf"/>
<circle cx="599.3" cy="72.1" r="2.65" fill="#7a3fbf"/>
<circle cx="600.1" cy="82.5" r="2.65" fill="#7a3fbf"/>
<circle cx="574.3" cy="87.2" r="2.65" fill="#7a3fbf"/>
<circle cx="537.5" cy="103.5" r="2.65" fill="#7a3fbf"/>
<circle cx="553.4" cy="101.9" r="2.65" fill="#7a3fbf"/>
<circle cx="613.6" cy="104.4" r="2.65" fill="#7a3fbf"/>
<circle cx="590.1" cy="123.5" r="2.65" fill="#7a3fbf"/>
<circle cx="647.8" cy="121.9" r="2.65" fill="#7a3fbf"/>
<circle cx="638.3" cy="127.2" r="2.65" fill="#7a3fbf"/>
<circle cx="627.1" cy="147.4" r="2.65" fill="#7a3fbf"/>
<circle cx="612.0" cy="148.2" r="2.65" fill="#7a3fbf"/>
<circle cx="611.2" cy="150.5" r="2.65" fill="#7a3fbf"/>
<circle cx="621.2" cy="171.2" r="2.65" fill="#7a3fbf"/>
<circle cx="612.8" cy="178.0" r="2.65" fill="#7a3fbf"/>
<circle cx="462.6" cy="142.5" r="2.65" fill="#7a3fbf"/>
<circle cx="451.4" cy="154.7" r="2.65" fill="#7a3fbf"/>
<circle cx="452.2" cy="157.9" r="2.65" fill="#7a3fbf"/>
<circle cx="455.4" cy="159.5" r="2.65" fill="#7a3fbf"/>
<circle cx="447.5" cy="162.7" r="2.65" fill="#7a3fbf"/>
<circle cx="455.4" cy="160.8" r="2.65" fill="#7a3fbf"/>
<circle cx="444.6" cy="219.6" r="2.65" fill="#7a3fbf"/>
<circle cx="426.5" cy="230.7" r="2.65" fill="#7a3fbf"/>
<circle cx="490.1" cy="145.2" r="2.65" fill="#7a3fbf"/>
<circle cx="510.4" cy="143.3" r="2.65" fill="#7a3fbf"/>
<circle cx="497.4" cy="180.7" r="2.65" fill="#7a3fbf"/>
<circle cx="493.7" cy="186.6" r="2.65" fill="#7a3fbf"/>
<circle cx="483.7" cy="199.4" r="2.65" fill="#7a3fbf"/>
<circle cx="495.3" cy="217.6" r="2.65" fill="#7a3fbf"/>
<circle cx="488.5" cy="220.0" r="2.65" fill="#7a3fbf"/>
<circle cx="486.6" cy="223.9" r="2.65" fill="#7a3fbf"/>
<circle cx="637.8" cy="212.3" r="2.65" fill="#7a3fbf"/>
<circle cx="650.5" cy="232.9" r="2.65" fill="#7a3fbf"/>
<circle cx="627.6" cy="233.7" r="2.65" fill="#7a3fbf"/>
<circle cx="607.3" cy="236.9" r="2.65" fill="#7a3fbf"/>
<circle cx="595.3" cy="235.3" r="2.65" fill="#7a3fbf"/>
<circle cx="596.1" cy="237.7" r="2.65" fill="#7a3fbf"/>
<circle cx="593.0" cy="240.9" r="2.65" fill="#7a3fbf"/>
<circle cx="623.2" cy="254.9" r="2.65" fill="#7a3fbf"/>
<circle cx="616.5" cy="259.2" r="2.65" fill="#7a3fbf"/>
<circle cx="616.5" cy="261.5" r="2.65" fill="#7a3fbf"/>
<circle cx="624.3" cy="281.1" r="2.65" fill="#7a3fbf"/>
<circle cx="620.6" cy="283.7" r="2.65" fill="#7a3fbf"/>
<circle cx="577.7" cy="244.0" r="2.65" fill="#7a3fbf"/>
<circle cx="573.2" cy="249.5" r="2.65" fill="#7a3fbf"/>
<circle cx="503.8" cy="233.5" r="2.65" fill="#7a3fbf"/>
<circle cx="506.3" cy="236.6" r="2.65" fill="#7a3fbf"/>
<circle cx="515.5" cy="233.5" r="2.65" fill="#7a3fbf"/>
<circle cx="549.5" cy="245.4" r="2.65" fill="#7a3fbf"/>
<circle cx="535.6" cy="265.0" r="2.65" fill="#7a3fbf"/>
<circle cx="521.2" cy="270.1" r="2.65" fill="#7a3fbf"/>
<circle cx="521.2" cy="274.2" r="2.65" fill="#7a3fbf"/>
<circle cx="537.6" cy="279.0" r="2.65" fill="#7a3fbf"/>
<circle cx="551.0" cy="286.6" r="2.65" fill="#7a3fbf"/>
<circle cx="528.4" cy="290.7" r="2.65" fill="#7a3fbf"/>
<circle cx="529.4" cy="293.8" r="2.65" fill="#7a3fbf"/>
<circle cx="561.5" cy="301.5" r="2.65" fill="#7a3fbf"/>
<circle cx="538.6" cy="325.7" r="2.65" fill="#7a3fbf"/>
<circle cx="527.7" cy="330.8" r="2.65" fill="#7a3fbf"/>
<circle cx="587.3" cy="300.2" r="2.65" fill="#7a3fbf"/>
<circle cx="595.4" cy="326.6" r="2.65" fill="#7a3fbf"/>
<circle cx="466.5" cy="14.8" r="2.65" fill="#62b6e2"/>
<circle cx="490.4" cy="6.7" r="2.65" fill="#62b6e2"/>
<circle cx="448.3" cy="26.2" r="2.65" fill="#62b6e2"/>
<circle cx="469.7" cy="27.0" r="2.65" fill="#62b6e2"/>
<circle cx="469.7" cy="29.4" r="2.65" fill="#62b6e2"/>
<circle cx="468.9" cy="35.0" r="2.65" fill="#62b6e2"/>
<circle cx="472.1" cy="45.3" r="2.65" fill="#62b6e2"/>
<circle cx="488.8" cy="27.0" r="2.65" fill="#62b6e2"/>
<circle cx="430.3" cy="54.1" r="2.65" fill="#62b6e2"/>
<circle cx="461.8" cy="73.1" r="2.65" fill="#62b6e2"/>
<circle cx="478.5" cy="75.8" r="2.65" fill="#62b6e2"/>
<circle cx="485.6" cy="66.8" r="2.65" fill="#62b6e2"/>
<circle cx="488.8" cy="66.8" r="2.65" fill="#62b6e2"/>
<circle cx="484.0" cy="69.2" r="2.65" fill="#62b6e2"/>
<circle cx="498.5" cy="16.7" r="2.65" fill="#62b6e2"/>
<circle cx="500.1" cy="21.5" r="2.65" fill="#62b6e2"/>
<circle cx="507.3" cy="23.1" r="2.65" fill="#62b6e2"/>
<circle cx="510.1" cy="23.5" r="2.65" fill="#62b6e2"/>
<circle cx="508.1" cy="33.4" r="2.65" fill="#62b6e2"/>
<circle cx="511.2" cy="32.6" r="2.65" fill="#62b6e2"/>
<circle cx="512.8" cy="33.4" r="2.65" fill="#62b6e2"/>
<circle cx="519.7" cy="37.4" r="2.65" fill="#62b6e2"/>
<circle cx="525.5" cy="55.6" r="2.65" fill="#62b6e2"/>
<circle cx="527.9" cy="56.9" r="2.65" fill="#62b6e2"/>
<circle cx="440.3" cy="89.9" r="2.65" fill="#62b6e2"/>
<circle cx="551.0" cy="64.4" r="2.65" fill="#62b6e2"/>
<circle cx="567.7" cy="73.9" r="2.65" fill="#62b6e2"/>
<circle cx="544.6" cy="79.2" r="2.65" fill="#62b6e2"/>
<circle cx="559.7" cy="83.5" r="2.65" fill="#62b6e2"/>
<circle cx="586.9" cy="94.9" r="2.65" fill="#62b6e2"/>
<circle cx="598.5" cy="103.9" r="2.65" fill="#62b6e2"/>
<circle cx="638.3" cy="109.5" r="2.65" fill="#62b6e2"/>
<circle cx="639.9" cy="111.9" r="2.65" fill="#62b6e2"/>
<circle cx="608.1" cy="129.9" r="2.65" fill="#62b6e2"/>
<circle cx="608.8" cy="133.1" r="2.65" fill="#62b6e2"/>
<circle cx="620.0" cy="134.2" r="2.65" fill="#62b6e2"/>
<circle cx="618.4" cy="142.6" r="2.65" fill="#62b6e2"/>
<circle cx="589.0" cy="144.7" r="2.65" fill="#62b6e2"/>
<circle cx="608.1" cy="156.4" r="2.65" fill="#62b6e2"/>
<circle cx="606.5" cy="159.0" r="2.65" fill="#62b6e2"/>
<circle cx="552.6" cy="151.2" r="2.65" fill="#62b6e2"/>
<circle cx="586.6" cy="163.3" r="2.65" fill="#62b6e2"/>
<circle cx="619.2" cy="161.2" r="2.65" fill="#62b6e2"/>
<circle cx="620.3" cy="164.8" r="2.65" fill="#62b6e2"/>
<circle cx="621.2" cy="168.0" r="2.65" fill="#62b6e2"/>
<circle cx="585.8" cy="182.8" r="2.65" fill="#62b6e2"/>
<circle cx="552.6" cy="167.2" r="2.65" fill="#62b6e2"/>
<circle cx="584.4" cy="162.7" r="2.65" fill="#62b6e2"/>
<circle cx="447.5" cy="117.8" r="2.65" fill="#62b6e2"/>
<circle cx="441.1" cy="121.7" r="2.65" fill="#62b6e2"/>
<circle cx="439.2" cy="124.2" r="2.65" fill="#62b6e2"/>
<circle cx="430.0" cy="134.8" r="2.65" fill="#62b6e2"/>
<circle cx="430.3" cy="137.6" r="2.65" fill="#62b6e2"/>
<circle cx="441.4" cy="135.6" r="2.65" fill="#62b6e2"/>
<circle cx="437.6" cy="144.9" r="2.65" fill="#62b6e2"/>
<circle cx="441.9" cy="144.4" r="2.65" fill="#62b6e2"/>
<circle cx="444.3" cy="142.0" r="2.65" fill="#62b6e2"/>
<circle cx="437.1" cy="165.0" r="2.65" fill="#62b6e2"/>
<circle cx="437.1" cy="166.7" r="2.65" fill="#62b6e2"/>
<circle cx="429.2" cy="173.5" r="2.65" fill="#62b6e2"/>
<circle cx="434.4" cy="183.1" r="2.65" fill="#62b6e2"/>
<circle cx="450.6" cy="192.6" r="2.65" fill="#62b6e2"/>
<circle cx="433.2" cy="196.2" r="2.65" fill="#62b6e2"/>
<circle cx="436.7" cy="195.3" r="2.65" fill="#62b6e2"/>
<circle cx="418.0" cy="199.0" r="2.65" fill="#62b6e2"/>
<circle cx="419.6" cy="201.7" r="2.65" fill="#62b6e2"/>
<circle cx="466.5" cy="200.1" r="2.65" fill="#62b6e2"/>
<circle cx="468.9" cy="199.7" r="2.65" fill="#62b6e2"/>
<circle cx="421.2" cy="210.9" r="2.65" fill="#62b6e2"/>
<circle cx="490.9" cy="153.9" r="2.65" fill="#62b6e2"/>
<circle cx="494.9" cy="189.0" r="2.65" fill="#62b6e2"/>
<circle cx="501.7" cy="197.4" r="2.65" fill="#62b6e2"/>
<circle cx="516.0" cy="194.5" r="2.65" fill="#62b6e2"/>
<circle cx="497.4" cy="203.7" r="2.65" fill="#62b6e2"/>
<circle cx="486.3" cy="202.1" r="2.65" fill="#62b6e2"/>
<circle cx="514.1" cy="208.5" r="2.65" fill="#62b6e2"/>
<circle cx="462.6" cy="236.3" r="2.65" fill="#62b6e2"/>
<circle cx="461.5" cy="239.5" r="2.65" fill="#62b6e2"/>
<circle cx="462.6" cy="242.7" r="2.65" fill="#62b6e2"/>
<circle cx="583.6" cy="182.6" r="2.65" fill="#62b6e2"/>
<circle cx="603.3" cy="190.8" r="2.65" fill="#62b6e2"/>
<circle cx="602.8" cy="197.2" r="2.65" fill="#62b6e2"/>
<circle cx="602.5" cy="201.1" r="2.65" fill="#62b6e2"/>
<circle cx="591.4" cy="201.4" r="2.65" fill="#62b6e2"/>
<circle cx="598.5" cy="205.6" r="2.65" fill="#62b6e2"/>
<circle cx="603.3" cy="209.4" r="2.65" fill="#62b6e2"/>
<circle cx="651.0" cy="223.4" r="2.65" fill="#62b6e2"/>
<circle cx="617.6" cy="243.3" r="2.65" fill="#62b6e2"/>
<circle cx="643.0" cy="243.7" r="2.65" fill="#62b6e2"/>
<circle cx="635.1" cy="248.5" r="2.65" fill="#62b6e2"/>
<circle cx="615.2" cy="265.0" r="2.65" fill="#62b6e2"/>
<circle cx="621.2" cy="273.0" r="2.65" fill="#62b6e2"/>
<circle cx="559.4" cy="232.7" r="2.65" fill="#62b6e2"/>
<circle cx="499.5" cy="258.8" r="2.65" fill="#62b6e2"/>
<circle cx="492.0" cy="265.4" r="2.65" fill="#62b6e2"/>
<circle cx="485.8" cy="273.8" r="2.65" fill="#62b6e2"/>
<circle cx="494.0" cy="278.4" r="2.65" fill="#62b6e2"/>
<circle cx="496.5" cy="280.4" r="2.65" fill="#62b6e2"/>
<circle cx="500.2" cy="279.0" r="2.65" fill="#62b6e2"/>
<circle cx="533.9" cy="298.9" r="2.65" fill="#62b6e2"/>
<circle cx="575.1" cy="288.2" r="2.65" fill="#62b6e2"/>
<circle cx="548.9" cy="297.5" r="2.65" fill="#62b6e2"/>
<circle cx="552.4" cy="307.2" r="2.65" fill="#62b6e2"/>
<circle cx="442.6" cy="313.8" r="2.65" fill="#62b6e2"/>
<circle cx="426.4" cy="325.2" r="2.65" fill="#62b6e2"/>
<circle cx="428.0" cy="327.5" r="2.65" fill="#62b6e2"/>
<circle cx="451.5" cy="330.1" r="2.65" fill="#62b6e2"/>
<text x="415.70" y="66.00" font-size="6.8" fill="#35729c" style="color:#35729c" text-anchor="start" font-weight="bold" >TK</text>
<text x="596.90" y="61.00" font-size="6.8" fill="#35729c" style="color:#35729c" text-anchor="start" font-weight="bold" >TKL</text>
<text x="638.30" y="101.20" font-size="6.8" fill="#35729c" style="color:#35729c" text-anchor="start" font-weight="bold" >STE</text>
<text x="413.30" y="160.30" font-size="6.8" fill="#35729c" style="color:#35729c" text-anchor="start" font-weight="bold" >CMGC</text>
<text x="624.70" y="183.90" font-size="6.8" fill="#35729c" style="color:#35729c" text-anchor="start" font-weight="bold" >CK1</text>
<text x="635.10" y="271.00" font-size="6.8" fill="#35729c" style="color:#35729c" text-anchor="start" font-weight="bold" >AGC</text>
<text x="551.60" y="318.50" font-size="6.8" fill="#35729c" style="color:#35729c" text-anchor="start" font-weight="bold" >CAMK</text>
<circle cx="534.8" cy="3.5" r="3.6" fill="#48bef4"/>
<text x="542.60" y="6.60" font-size="9.6" fill="#000" style="color:#000" text-anchor="start" font-weight="normal" >Round 1 and Round 2 kinases</text>
<circle cx="534.8" cy="15.5" r="3.6" fill="#9b43f3"/>
<text x="542.60" y="18.60" font-size="9.6" fill="#000" style="color:#000" text-anchor="start" font-weight="normal" >Round 1-specific kinases</text>
<circle cx="534.8" cy="27.2" r="3.6" fill="#f31515"/>
<text x="542.60" y="30.60" font-size="9.6" fill="#000" style="color:#000" text-anchor="start" font-weight="normal" >Round 2-specific kinases</text>
<line x1="41.6" y1="283.25" x2="365.6" y2="283.25" stroke="#f3f3f3" stroke-width="0.4"/>
<line x1="41.6" y1="239.15" x2="365.6" y2="239.15" stroke="#f3f3f3" stroke-width="0.4"/>
<line x1="41.6" y1="195.05" x2="365.6" y2="195.05" stroke="#f3f3f3" stroke-width="0.4"/>
<line x1="82.54" y1="172.6" x2="82.54" y2="311.3" stroke="#f3f3f3" stroke-width="0.4"/>
<line x1="134.62" y1="172.6" x2="134.62" y2="311.3" stroke="#f3f3f3" stroke-width="0.4"/>
<line x1="186.70" y1="172.6" x2="186.70" y2="311.3" stroke="#f3f3f3" stroke-width="0.4"/>
<line x1="238.78" y1="172.6" x2="238.78" y2="311.3" stroke="#f3f3f3" stroke-width="0.4"/>
<line x1="290.86" y1="172.6" x2="290.86" y2="311.3" stroke="#f3f3f3" stroke-width="0.4"/>
<line x1="342.94" y1="172.6" x2="342.94" y2="311.3" stroke="#f3f3f3" stroke-width="0.4"/>
<line x1="41.6" y1="305.30" x2="365.6" y2="305.30" stroke="#e8e8e8" stroke-width="0.6"/>
<line x1="41.6" y1="261.20" x2="365.6" y2="261.20" stroke="#e8e8e8" stroke-width="0.6"/>
<line x1="41.6" y1="217.10" x2="365.6" y2="217.10" stroke="#e8e8e8" stroke-width="0.6"/>
<line x1="41.6" y1="173.00" x2="365.6" y2="173.00" stroke="#e8e8e8" stroke-width="0.6"/>
<line x1="56.50" y1="172.6" x2="56.50" y2="311.3" stroke="#e8e8e8" stroke-width="0.6"/>
<line x1="108.58" y1="172.6" x2="108.58" y2="311.3" stroke="#e8e8e8" stroke-width="0.6"/>
<line x1="160.66" y1="172.6" x2="160.66" y2="311.3" stroke="#e8e8e8" stroke-width="0.6"/>
<line x1="212.74" y1="172.6" x2="212.74" y2="311.3" stroke="#e8e8e8" stroke-width="0.6"/>
<line x1="264.82" y1="172.6" x2="264.82" y2="311.3" stroke="#e8e8e8" stroke-width="0.6"/>
<line x1="316.90" y1="172.6" x2="316.90" y2="311.3" stroke="#e8e8e8" stroke-width="0.6"/>
<rect x="56.30" y="217.98" width="10.25" height="87.32" fill="#e18385"/>
<rect x="56.30" y="178.29" width="10.25" height="39.69" fill="#dfabeb"/>
<rect x="66.15" y="300.89" width="10.25" height="4.41" fill="#e18385"/>
<rect x="66.15" y="300.01" width="10.25" height="0.88" fill="#fdba93"/>
<rect x="76.00" y="298.24" width="10.25" height="7.06" fill="#e18385"/>
<rect x="76.00" y="296.48" width="10.25" height="1.76" fill="#dfabeb"/>
<rect x="85.85" y="303.54" width="10.25" height="1.76" fill="#e18385"/>
<rect x="85.85" y="292.07" width="10.25" height="11.47" fill="#fdba93"/>
<rect x="95.70" y="298.24" width="10.25" height="7.06" fill="#e18385"/>
<rect x="95.70" y="295.60" width="10.25" height="2.65" fill="#dfabeb"/>
<rect x="105.55" y="297.36" width="10.25" height="7.94" fill="#e18385"/>
<rect x="105.55" y="292.07" width="10.25" height="5.29" fill="#dfabeb"/>
<rect x="115.40" y="291.19" width="10.25" height="14.11" fill="#e18385"/>
<rect x="115.40" y="285.90" width="10.25" height="5.29" fill="#fdba93"/>
<rect x="125.25" y="287.66" width="10.25" height="17.64" fill="#e18385"/>
<rect x="125.25" y="282.37" width="10.25" height="5.29" fill="#fdba93"/>
<rect x="135.10" y="284.13" width="10.25" height="21.17" fill="#e18385"/>
<rect x="135.10" y="280.60" width="10.25" height="3.53" fill="#dfabeb"/>
<rect x="144.95" y="273.55" width="10.25" height="31.75" fill="#e18385"/>
<rect x="144.95" y="268.26" width="10.25" height="5.29" fill="#fdba93"/>
<rect x="154.80" y="278.84" width="10.25" height="26.46" fill="#e18385"/>
<rect x="154.80" y="278.40" width="10.25" height="0.44" fill="#fdba93"/>
<rect x="164.65" y="290.31" width="10.25" height="14.99" fill="#e18385"/>
<rect x="164.65" y="284.13" width="10.25" height="6.17" fill="#dfabeb"/>
<rect x="174.50" y="290.31" width="10.25" height="14.99" fill="#e18385"/>
<rect x="174.50" y="281.49" width="10.25" height="8.82" fill="#fdba93"/>
<rect x="184.35" y="290.31" width="10.25" height="14.99" fill="#e18385"/>
<rect x="194.20" y="297.36" width="10.25" height="7.94" fill="#e18385"/>
<rect x="194.20" y="292.07" width="10.25" height="5.29" fill="#dfabeb"/>
<rect x="204.05" y="301.15" width="10.25" height="4.15" fill="#e18385"/>
<rect x="204.05" y="300.89" width="10.25" height="0.26" fill="#dfabeb"/>
<rect x="213.90" y="300.27" width="10.25" height="5.03" fill="#e18385"/>
<rect x="213.90" y="297.80" width="10.25" height="2.47" fill="#dfabeb"/>
<rect x="223.75" y="300.27" width="10.25" height="5.03" fill="#e18385"/>
<rect x="223.75" y="296.48" width="10.25" height="3.79" fill="#dfabeb"/>
<rect x="233.60" y="303.27" width="10.25" height="2.03" fill="#e18385"/>
<rect x="243.45" y="303.54" width="10.25" height="1.76" fill="#e18385"/>
<rect x="243.45" y="298.24" width="10.25" height="5.29" fill="#fdba93"/>
<rect x="253.30" y="303.54" width="10.25" height="1.76" fill="#e18385"/>
<rect x="253.30" y="301.15" width="10.25" height="2.38" fill="#dfabeb"/>
<rect x="263.15" y="303.10" width="10.25" height="2.21" fill="#e18385"/>
<rect x="273.00" y="303.27" width="10.25" height="2.03" fill="#e18385"/>
<rect x="282.85" y="303.54" width="10.25" height="1.76" fill="#e18385"/>
<rect x="282.85" y="302.65" width="10.25" height="0.88" fill="#dfabeb"/>
<rect x="292.70" y="304.07" width="10.25" height="1.23" fill="#e18385"/>
<rect x="302.55" y="304.07" width="10.25" height="1.23" fill="#e18385"/>
<rect x="322.25" y="304.42" width="10.25" height="0.88" fill="#dfabeb"/>
<rect x="341.95" y="304.42" width="10.25" height="0.88" fill="#dfabeb"/>
<rect x="56.50" y="217.98" width="9.85" height="87.32" fill="none" stroke="#8a7a78" stroke-width="0.6"/>
<rect x="66.35" y="300.01" width="9.85" height="5.29" fill="none" stroke="#8a7a78" stroke-width="0.6"/>
<rect x="76.20" y="298.24" width="9.85" height="7.06" fill="none" stroke="#8a7a78" stroke-width="0.6"/>
<rect x="86.05" y="292.07" width="9.85" height="13.23" fill="none" stroke="#8a7a78" stroke-width="0.6"/>
<rect x="95.90" y="298.24" width="9.85" height="7.06" fill="none" stroke="#8a7a78" stroke-width="0.6"/>
<rect x="105.75" y="297.36" width="9.85" height="7.94" fill="none" stroke="#8a7a78" stroke-width="0.6"/>
<rect x="115.60" y="285.90" width="9.85" height="19.40" fill="none" stroke="#8a7a78" stroke-width="0.6"/>
<rect x="125.45" y="282.37" width="9.85" height="22.93" fill="none" stroke="#8a7a78" stroke-width="0.6"/>
<rect x="135.30" y="284.13" width="9.85" height="21.17" fill="none" stroke="#8a7a78" stroke-width="0.6"/>
<rect x="145.15" y="268.26" width="9.85" height="37.04" fill="none" stroke="#8a7a78" stroke-width="0.6"/>
<rect x="155.00" y="278.40" width="9.85" height="26.90" fill="none" stroke="#8a7a78" stroke-width="0.6"/>
<rect x="164.85" y="290.31" width="9.85" height="14.99" fill="none" stroke="#8a7a78" stroke-width="0.6"/>
<rect x="174.70" y="281.49" width="9.85" height="23.81" fill="none" stroke="#8a7a78" stroke-width="0.6"/>
<rect x="184.55" y="290.31" width="9.85" height="14.99" fill="none" stroke="#8a7a78" stroke-width="0.6"/>
<rect x="194.40" y="297.36" width="9.85" height="7.94" fill="none" stroke="#8a7a78" stroke-width="0.6"/>
<rect x="204.25" y="301.15" width="9.85" height="4.15" fill="none" stroke="#8a7a78" stroke-width="0.6"/>
<rect x="214.10" y="300.27" width="9.85" height="5.03" fill="none" stroke="#8a7a78" stroke-width="0.6"/>
<rect x="223.95" y="300.27" width="9.85" height="5.03" fill="none" stroke="#8a7a78" stroke-width="0.6"/>
<rect x="233.80" y="303.27" width="9.85" height="2.03" fill="none" stroke="#8a7a78" stroke-width="0.6"/>
<rect x="243.65" y="298.24" width="9.85" height="7.06" fill="none" stroke="#8a7a78" stroke-width="0.6"/>
<rect x="253.50" y="303.54" width="9.85" height="1.76" fill="none" stroke="#8a7a78" stroke-width="0.6"/>
<rect x="263.35" y="303.10" width="9.85" height="2.21" fill="none" stroke="#8a7a78" stroke-width="0.6"/>
<rect x="273.20" y="303.27" width="9.85" height="2.03" fill="none" stroke="#8a7a78" stroke-width="0.6"/>
<rect x="283.05" y="303.54" width="9.85" height="1.76" fill="none" stroke="#8a7a78" stroke-width="0.6"/>
<rect x="292.90" y="304.07" width="9.85" height="1.23" fill="none" stroke="#8a7a78" stroke-width="0.6"/>
<rect x="302.75" y="304.07" width="9.85" height="1.23" fill="none" stroke="#8a7a78" stroke-width="0.6"/>
<line x1="56.50" y1="305.30" x2="361.85" y2="305.30" stroke="#8a7a78" stroke-width="0.6"/>
<rect x="41.6" y="172.6" width="324.0" height="138.70000000000002" fill="none" stroke="#555" stroke-width="0.8"/>
<line x1="39.60" y1="305.30" x2="41.6" y2="305.30" stroke="#555" stroke-width="0.6"/>
<text x="39.00" y="309.20" font-size="11" fill="#4d4d4d" style="color:#4d4d4d" text-anchor="end" font-weight="normal" >0</text>
<line x1="39.60" y1="261.20" x2="41.6" y2="261.20" stroke="#555" stroke-width="0.6"/>
<text x="39.00" y="265.10" font-size="11" fill="#4d4d4d" style="color:#4d4d4d" text-anchor="end" font-weight="normal" >50</text>
<line x1="39.60" y1="217.10" x2="41.6" y2="217.10" stroke="#555" stroke-width="0.6"/>
<text x="39.00" y="221.00" font-size="11" fill="#4d4d4d" style="color:#4d4d4d" text-anchor="end" font-weight="normal" >100</text>
<line x1="39.60" y1="173.00" x2="41.6" y2="173.00" stroke="#555" stroke-width="0.6"/>
<text x="39.00" y="176.90" font-size="11" fill="#4d4d4d" style="color:#4d4d4d" text-anchor="end" font-weight="normal" >150</text>
<line x1="56.50" y1="311.3" x2="56.50" y2="313.3" stroke="#555" stroke-width="0.6"/>
<text x="56.50" y="322.20" font-size="11" fill="#4d4d4d" style="color:#4d4d4d" text-anchor="middle" font-weight="normal" >5</text>
<line x1="108.58" y1="311.3" x2="108.58" y2="313.3" stroke="#555" stroke-width="0.6"/>
<text x="108.58" y="322.20" font-size="11" fill="#4d4d4d" style="color:#4d4d4d" text-anchor="middle" font-weight="normal" >6</text>
<line x1="160.66" y1="311.3" x2="160.66" y2="313.3" stroke="#555" stroke-width="0.6"/>
<text x="160.66" y="322.20" font-size="11" fill="#4d4d4d" style="color:#4d4d4d" text-anchor="middle" font-weight="normal" >7</text>
<line x1="212.74" y1="311.3" x2="212.74" y2="313.3" stroke="#555" stroke-width="0.6"/>
<text x="212.74" y="322.20" font-size="11" fill="#4d4d4d" style="color:#4d4d4d" text-anchor="middle" font-weight="normal" >8</text>
<line x1="264.82" y1="311.3" x2="264.82" y2="313.3" stroke="#555" stroke-width="0.6"/>
<text x="264.82" y="322.20" font-size="11" fill="#4d4d4d" style="color:#4d4d4d" text-anchor="middle" font-weight="normal" >9</text>
<line x1="316.90" y1="311.3" x2="316.90" y2="313.3" stroke="#555" stroke-width="0.6"/>
<text x="316.90" y="322.20" font-size="11" fill="#4d4d4d" style="color:#4d4d4d" text-anchor="middle" font-weight="normal" >10</text>
<text x="0.50" y="174.40" font-size="14" fill="#000" style="color:#000" text-anchor="start" font-weight="bold" >c</text>
<text x="191.6" y="336.1" font-size="11">pK<tspan font-size="8" dy="1.6">d</tspan></text>
<text transform="translate(13.3,249.2) rotate(-90)" font-size="11.4" text-anchor="middle">Number of pairs</text>
<rect x="264.5" y="180.6" width="98.5" height="27.6" fill="#fff"/>
<rect x="266.8" y="182.6" width="6.5" height="11.8" fill="#bb6dcb" stroke="#8f8f8f" stroke-width="0.5"/>
<rect x="266.8" y="194.6" width="6.5" height="11.6" fill="#fb8c5b" stroke="#8f8f8f" stroke-width="0.5"/>
<text x="278.00" y="191.40" font-size="9.75" fill="#000" style="color:#000" text-anchor="start" font-weight="normal" >Round 1: 430 pairs</text>
<text x="278.00" y="203.60" font-size="9.75" fill="#000" style="color:#000" text-anchor="start" font-weight="normal" >Round 2: 394 pairs</text>
<line x1="41.6" y1="481.93" x2="369.7" y2="481.93" stroke="#f3f3f3" stroke-width="0.4"/>
<line x1="41.6" y1="449.18" x2="369.7" y2="449.18" stroke="#f3f3f3" stroke-width="0.4"/>
<line x1="41.6" y1="416.43" x2="369.7" y2="416.43" stroke="#f3f3f3" stroke-width="0.4"/>
<line x1="41.6" y1="383.68" x2="369.7" y2="383.68" stroke="#f3f3f3" stroke-width="0.4"/>
<line x1="114.50" y1="360.5" x2="114.50" y2="505" stroke="#f3f3f3" stroke-width="0.4"/>
<line x1="210.30" y1="360.5" x2="210.30" y2="505" stroke="#f3f3f3" stroke-width="0.4"/>
<line x1="306.10" y1="360.5" x2="306.10" y2="505" stroke="#f3f3f3" stroke-width="0.4"/>
<line x1="41.6" y1="498.30" x2="369.7" y2="498.30" stroke="#e8e8e8" stroke-width="0.6"/>
<line x1="41.6" y1="465.55" x2="369.7" y2="465.55" stroke="#e8e8e8" stroke-width="0.6"/>
<line x1="41.6" y1="432.80" x2="369.7" y2="432.80" stroke="#e8e8e8" stroke-width="0.6"/>
<line x1="41.6" y1="400.05" x2="369.7" y2="400.05" stroke="#e8e8e8" stroke-width="0.6"/>
<line x1="41.6" y1="367.30" x2="369.7" y2="367.30" stroke="#e8e8e8" stroke-width="0.6"/>
<line x1="66.60" y1="360.5" x2="66.60" y2="505" stroke="#e8e8e8" stroke-width="0.6"/>
<line x1="162.40" y1="360.5" x2="162.40" y2="505" stroke="#e8e8e8" stroke-width="0.6"/>
<line x1="258.20" y1="360.5" x2="258.20" y2="505" stroke="#e8e8e8" stroke-width="0.6"/>
<line x1="354.00" y1="360.5" x2="354.00" y2="505" stroke="#e8e8e8" stroke-width="0.6"/>
<rect x="61.70" y="472.10" width="9.14" height="26.20" fill="#e18385"/>
<rect x="61.70" y="445.90" width="9.14" height="26.20" fill="#dfabeb"/>
<rect x="70.44" y="406.60" width="9.14" height="91.70" fill="#dfabeb"/>
<rect x="79.18" y="367.30" width="9.14" height="131.00" fill="#dfabeb"/>
<rect x="96.66" y="393.50" width="9.14" height="104.80" fill="#dfabeb"/>
<rect x="105.40" y="445.90" width="9.14" height="52.40" fill="#dfabeb"/>
<rect x="114.14" y="380.40" width="9.14" height="117.90" fill="#dfabeb"/>
<rect x="122.88" y="485.20" width="9.14" height="13.10" fill="#e18385"/>
<rect x="122.88" y="393.50" width="9.14" height="91.70" fill="#dfabeb"/>
<rect x="131.62" y="459.00" width="9.14" height="39.30" fill="#dfabeb"/>
<rect x="140.36" y="485.20" width="9.14" height="13.10" fill="#e18385"/>
<rect x="140.36" y="459.00" width="9.14" height="26.20" fill="#dfabeb"/>
<rect x="149.10" y="472.10" width="9.14" height="26.20" fill="#fdba93"/>
<rect x="157.84" y="485.20" width="9.14" height="13.10" fill="#e18385"/>
<rect x="157.84" y="432.80" width="9.14" height="52.40" fill="#dfabeb"/>
<rect x="166.58" y="459.00" width="9.14" height="39.30" fill="#dfabeb"/>
<rect x="175.32" y="485.20" width="9.14" height="13.10" fill="#e18385"/>
<rect x="175.32" y="459.00" width="9.14" height="26.20" fill="#fdba93"/>
<rect x="184.06" y="459.00" width="9.14" height="39.30" fill="#fdba93"/>
<rect x="192.80" y="485.20" width="9.14" height="13.10" fill="#e18385"/>
<rect x="192.80" y="472.10" width="9.14" height="13.10" fill="#dfabeb"/>
<rect x="201.54" y="472.10" width="9.14" height="26.20" fill="#fdba93"/>
<rect x="210.28" y="485.20" width="9.14" height="13.10" fill="#e18385"/>
<rect x="210.28" y="459.00" width="9.14" height="26.20" fill="#fdba93"/>
<rect x="219.02" y="485.20" width="9.14" height="13.10" fill="#dfabeb"/>
<rect x="227.76" y="485.20" width="9.14" height="13.10" fill="#fdba93"/>
<rect x="253.98" y="485.20" width="9.14" height="13.10" fill="#dfabeb"/>
<rect x="271.46" y="472.10" width="9.14" height="26.20" fill="#fdba93"/>
<rect x="297.68" y="472.10" width="9.14" height="26.20" fill="#fdba93"/>
<rect x="323.90" y="485.20" width="9.14" height="13.10" fill="#fdba93"/>
<rect x="61.90" y="472.10" width="8.74" height="26.20" fill="none" stroke="#8a7a78" stroke-width="0.6"/>
<rect x="123.08" y="485.20" width="8.74" height="13.10" fill="none" stroke="#8a7a78" stroke-width="0.6"/>
<rect x="140.56" y="485.20" width="8.74" height="13.10" fill="none" stroke="#8a7a78" stroke-width="0.6"/>
<rect x="149.30" y="472.10" width="8.74" height="26.20" fill="none" stroke="#8a7a78" stroke-width="0.6"/>
<rect x="158.04" y="485.20" width="8.74" height="13.10" fill="none" stroke="#8a7a78" stroke-width="0.6"/>
<rect x="175.52" y="459.00" width="8.74" height="39.30" fill="none" stroke="#8a7a78" stroke-width="0.6"/>
<rect x="184.26" y="459.00" width="8.74" height="39.30" fill="none" stroke="#8a7a78" stroke-width="0.6"/>
<rect x="193.00" y="485.20" width="8.74" height="13.10" fill="none" stroke="#8a7a78" stroke-width="0.6"/>
<rect x="201.74" y="472.10" width="8.74" height="26.20" fill="none" stroke="#8a7a78" stroke-width="0.6"/>
<rect x="210.48" y="459.00" width="8.74" height="39.30" fill="none" stroke="#8a7a78" stroke-width="0.6"/>
<rect x="227.96" y="485.20" width="8.74" height="13.10" fill="none" stroke="#8a7a78" stroke-width="0.6"/>
<rect x="271.66" y="472.10" width="8.74" height="26.20" fill="none" stroke="#8a7a78" stroke-width="0.6"/>
<rect x="297.88" y="472.10" width="8.74" height="26.20" fill="none" stroke="#8a7a78" stroke-width="0.6"/>
<rect x="324.10" y="485.20" width="8.74" height="13.10" fill="none" stroke="#8a7a78" stroke-width="0.6"/>
<line x1="61.90" y1="498.30" x2="350.32" y2="498.30" stroke="#8a7a78" stroke-width="0.6"/>
<rect x="41.6" y="360.5" width="328.09999999999997" height="144.5" fill="none" stroke="#555" stroke-width="0.8"/>
<line x1="39.60" y1="498.30" x2="41.6" y2="498.30" stroke="#555" stroke-width="0.6"/>
<text x="39.00" y="502.20" font-size="11" fill="#4d4d4d" style="color:#4d4d4d" text-anchor="end" font-weight="normal" >0.0</text>
<line x1="39.60" y1="465.55" x2="41.6" y2="465.55" stroke="#555" stroke-width="0.6"/>
<text x="39.00" y="469.45" font-size="11" fill="#4d4d4d" style="color:#4d4d4d" text-anchor="end" font-weight="normal" >2.5</text>
<line x1="39.60" y1="432.80" x2="41.6" y2="432.80" stroke="#555" stroke-width="0.6"/>
<text x="39.00" y="436.70" font-size="11" fill="#4d4d4d" style="color:#4d4d4d" text-anchor="end" font-weight="normal" >5.0</text>
<line x1="39.60" y1="400.05" x2="41.6" y2="400.05" stroke="#555" stroke-width="0.6"/>
<text x="39.00" y="403.95" font-size="11" fill="#4d4d4d" style="color:#4d4d4d" text-anchor="end" font-weight="normal" >7.5</text>
<line x1="39.60" y1="367.30" x2="41.6" y2="367.30" stroke="#555" stroke-width="0.6"/>
<text x="39.00" y="371.20" font-size="11" fill="#4d4d4d" style="color:#4d4d4d" text-anchor="end" font-weight="normal" >10.0</text>
<line x1="66.60" y1="505" x2="66.60" y2="507" stroke="#555" stroke-width="0.6"/>
<text x="66.60" y="515.90" font-size="11" fill="#4d4d4d" style="color:#4d4d4d" text-anchor="middle" font-weight="normal" >0.00</text>
<line x1="162.40" y1="505" x2="162.40" y2="507" stroke="#555" stroke-width="0.6"/>
<text x="162.40" y="515.90" font-size="11" fill="#4d4d4d" style="color:#4d4d4d" text-anchor="middle" font-weight="normal" >0.05</text>
<line x1="258.20" y1="505" x2="258.20" y2="507" stroke="#555" stroke-width="0.6"/>
<text x="258.20" y="515.90" font-size="11" fill="#4d4d4d" style="color:#4d4d4d" text-anchor="middle" font-weight="normal" >0.10</text>
<line x1="354.00" y1="505" x2="354.00" y2="507" stroke="#555" stroke-width="0.6"/>
<text x="354.00" y="515.90" font-size="11" fill="#4d4d4d" style="color:#4d4d4d" text-anchor="middle" font-weight="normal" >0.15</text>
<text x="-0.80" y="362.30" font-size="15" fill="#000" style="color:#000" text-anchor="start" font-weight="bold" >d</text>
<text x="203.10" y="532.10" font-size="11.5" fill="#000" style="color:#000" text-anchor="middle" font-weight="normal" >Selectivity index</text>
<text transform="translate(13.6,432.5) rotate(-90)" font-size="11.9" text-anchor="middle">Number of compounds</text>
<rect x="241.6" y="368.8" width="125" height="28.6" fill="#fff"/>
<rect x="243.8" y="370.8" width="6.6" height="12.2" fill="#bb6dcb" stroke="#8f8f8f" stroke-width="0.5"/>
<rect x="243.8" y="383.2" width="6.6" height="12" fill="#fb8c5b" stroke="#8f8f8f" stroke-width="0.5"/>
<text x="255.10" y="380.30" font-size="10" fill="#000" style="color:#000" text-anchor="start" font-weight="normal" >Round 1: 70 compounds</text>
<text x="255.10" y="392.80" font-size="10" fill="#000" style="color:#000" text-anchor="start" font-weight="normal" >Round 2: 25 compounds</text>
<line x1="429.5" y1="472.10" x2="684.4" y2="472.10" stroke="#f3f3f3" stroke-width="0.4"/>
<line x1="429.5" y1="449.10" x2="684.4" y2="449.10" stroke="#f3f3f3" stroke-width="0.4"/>
<line x1="429.5" y1="426.10" x2="684.4" y2="426.10" stroke="#f3f3f3" stroke-width="0.4"/>
<line x1="429.5" y1="403.10" x2="684.4" y2="403.10" stroke="#f3f3f3" stroke-width="0.4"/>
<line x1="429.5" y1="380.10" x2="684.4" y2="380.10" stroke="#f3f3f3" stroke-width="0.4"/>
<line x1="429.5" y1="483.60" x2="684.4" y2="483.60" stroke="#e8e8e8" stroke-width="0.6"/>
<line x1="429.5" y1="460.60" x2="684.4" y2="460.60" stroke="#e8e8e8" stroke-width="0.6"/>
<line x1="429.5" y1="437.60" x2="684.4" y2="437.60" stroke="#e8e8e8" stroke-width="0.6"/>
<line x1="429.5" y1="414.60" x2="684.4" y2="414.60" stroke="#e8e8e8" stroke-width="0.6"/>
<line x1="429.5" y1="391.60" x2="684.4" y2="391.60" stroke="#e8e8e8" stroke-width="0.6"/>
<line x1="429.5" y1="368.60" x2="684.4" y2="368.60" stroke="#e8e8e8" stroke-width="0.6"/>
<line x1="444.60" y1="360.5" x2="444.60" y2="489.4" stroke="#e8e8e8" stroke-width="0.6"/>
<line x1="469.65" y1="360.5" x2="469.65" y2="489.4" stroke="#e8e8e8" stroke-width="0.6"/>
<line x1="494.70" y1="360.5" x2="494.70" y2="489.4" stroke="#e8e8e8" stroke-width="0.6"/>
<line x1="519.75" y1="360.5" x2="519.75" y2="489.4" stroke="#e8e8e8" stroke-width="0.6"/>
<line x1="544.80" y1="360.5" x2="544.80" y2="489.4" stroke="#e8e8e8" stroke-width="0.6"/>
<line x1="569.85" y1="360.5" x2="569.85" y2="489.4" stroke="#e8e8e8" stroke-width="0.6"/>
<line x1="594.90" y1="360.5" x2="594.90" y2="489.4" stroke="#e8e8e8" stroke-width="0.6"/>
<line x1="619.95" y1="360.5" x2="619.95" y2="489.4" stroke="#e8e8e8" stroke-width="0.6"/>
<line x1="645.00" y1="360.5" x2="645.00" y2="489.4" stroke="#e8e8e8" stroke-width="0.6"/>
<line x1="670.05" y1="360.5" x2="670.05" y2="489.4" stroke="#e8e8e8" stroke-width="0.6"/>
<rect x="437.10" y="423.80" width="7.5" height="59.80" fill="#dfabeb"/>
<rect x="444.60" y="433.00" width="7.5" height="50.60" fill="#fdb994"/>
<rect x="462.15" y="474.40" width="7.5" height="9.20" fill="#dfabeb"/>
<rect x="469.65" y="469.80" width="7.5" height="13.80" fill="#fdb994"/>
<rect x="487.20" y="430.70" width="7.5" height="52.90" fill="#dfabeb"/>
<rect x="494.70" y="435.30" width="7.5" height="48.30" fill="#fdb994"/>
<rect x="512.25" y="469.80" width="7.5" height="13.80" fill="#dfabeb"/>
<rect x="519.75" y="472.10" width="7.5" height="11.50" fill="#fdb994"/>
<rect x="537.30" y="416.90" width="7.5" height="66.70" fill="#dfabeb"/>
<rect x="544.80" y="412.30" width="7.5" height="71.30" fill="#fdb994"/>
<rect x="562.35" y="423.80" width="7.5" height="59.80" fill="#dfabeb"/>
<rect x="569.85" y="416.90" width="7.5" height="66.70" fill="#fdb994"/>
<rect x="587.40" y="444.50" width="7.5" height="39.10" fill="#dfabeb"/>
<rect x="594.90" y="428.40" width="7.5" height="55.20" fill="#fdb994"/>
<rect x="612.45" y="393.90" width="7.5" height="89.70" fill="#dfabeb"/>
<rect x="619.95" y="366.30" width="7.5" height="117.30" fill="#fdb994"/>
<rect x="637.50" y="446.80" width="7.5" height="36.80" fill="#dfabeb"/>
<rect x="645.00" y="456.00" width="7.5" height="27.60" fill="#fdb994"/>
<rect x="662.55" y="453.70" width="7.5" height="29.90" fill="#dfabeb"/>
<rect x="670.05" y="469.80" width="7.5" height="13.80" fill="#fdb994"/>
<rect x="429.5" y="360.5" width="254.89999999999998" height="128.89999999999998" fill="none" stroke="#8c8c8c" stroke-width="0.8"/>
<line x1="427.50" y1="483.60" x2="429.5" y2="483.60" stroke="#555" stroke-width="0.6"/>
<text x="426.90" y="487.50" font-size="11" fill="#4d4d4d" style="color:#4d4d4d" text-anchor="end" font-weight="normal" >0</text>
<line x1="427.50" y1="460.60" x2="429.5" y2="460.60" stroke="#555" stroke-width="0.6"/>
<text x="426.90" y="464.50" font-size="11" fill="#4d4d4d" style="color:#4d4d4d" text-anchor="end" font-weight="normal" >10</text>
<line x1="427.50" y1="437.60" x2="429.5" y2="437.60" stroke="#555" stroke-width="0.6"/>
<text x="426.90" y="441.50" font-size="11" fill="#4d4d4d" style="color:#4d4d4d" text-anchor="end" font-weight="normal" >20</text>
<line x1="427.50" y1="414.60" x2="429.5" y2="414.60" stroke="#555" stroke-width="0.6"/>
<text x="426.90" y="418.50" font-size="11" fill="#4d4d4d" style="color:#4d4d4d" text-anchor="end" font-weight="normal" >30</text>
<line x1="427.50" y1="391.60" x2="429.5" y2="391.60" stroke="#555" stroke-width="0.6"/>
<text x="426.90" y="395.50" font-size="11" fill="#4d4d4d" style="color:#4d4d4d" text-anchor="end" font-weight="normal" >40</text>
<line x1="427.50" y1="368.60" x2="429.5" y2="368.60" stroke="#555" stroke-width="0.6"/>
<text x="426.90" y="372.50" font-size="11" fill="#4d4d4d" style="color:#4d4d4d" text-anchor="end" font-weight="normal" >50</text>
<line x1="444.60" y1="489.4" x2="444.60" y2="491.4" stroke="#555" stroke-width="0.6"/>
<text transform="translate(443.70,491.60) rotate(-45)" font-size="9.3" fill="#4d4d4d" style="color:#4d4d4d" text-anchor="end" dy="0.7em">AGC</text>
<line x1="469.65" y1="489.4" x2="469.65" y2="491.4" stroke="#555" stroke-width="0.6"/>
<text transform="translate(468.75,491.60) rotate(-45)" font-size="9.3" fill="#4d4d4d" style="color:#4d4d4d" text-anchor="end" dy="0.7em">Atypical</text>
<line x1="494.70" y1="489.4" x2="494.70" y2="491.4" stroke="#555" stroke-width="0.6"/>
<text transform="translate(493.80,491.60) rotate(-45)" font-size="9.3" fill="#4d4d4d" style="color:#4d4d4d" text-anchor="end" dy="0.7em">CAMK</text>
<line x1="519.75" y1="489.4" x2="519.75" y2="491.4" stroke="#555" stroke-width="0.6"/>
<text transform="translate(518.85,491.60) rotate(-45)" font-size="9.3" fill="#4d4d4d" style="color:#4d4d4d" text-anchor="end" dy="0.7em">CK1</text>
<line x1="544.80" y1="489.4" x2="544.80" y2="491.4" stroke="#555" stroke-width="0.6"/>
<text transform="translate(543.90,491.60) rotate(-45)" font-size="9.3" fill="#4d4d4d" style="color:#4d4d4d" text-anchor="end" dy="0.7em">CMGC</text>
<line x1="569.85" y1="489.4" x2="569.85" y2="491.4" stroke="#555" stroke-width="0.6"/>
<text transform="translate(568.95,491.60) rotate(-45)" font-size="9.3" fill="#4d4d4d" style="color:#4d4d4d" text-anchor="end" dy="0.7em">Other</text>
<line x1="594.90" y1="489.4" x2="594.90" y2="491.4" stroke="#555" stroke-width="0.6"/>
<text transform="translate(594.00,491.60) rotate(-45)" font-size="9.3" fill="#4d4d4d" style="color:#4d4d4d" text-anchor="end" dy="0.7em">STE</text>
<line x1="619.95" y1="489.4" x2="619.95" y2="491.4" stroke="#555" stroke-width="0.6"/>
<text transform="translate(619.05,491.60) rotate(-45)" font-size="9.3" fill="#4d4d4d" style="color:#4d4d4d" text-anchor="end" dy="0.7em">TK</text>
<line x1="645.00" y1="489.4" x2="645.00" y2="491.4" stroke="#555" stroke-width="0.6"/>
<text transform="translate(644.10,491.60) rotate(-45)" font-size="9.3" fill="#4d4d4d" style="color:#4d4d4d" text-anchor="end" dy="0.7em">TKL</text>
<line x1="670.05" y1="489.4" x2="670.05" y2="491.4" stroke="#555" stroke-width="0.6"/>
<text transform="translate(669.15,491.60) rotate(-45)" font-size="9.3" fill="#4d4d4d" style="color:#4d4d4d" text-anchor="end" dy="0.7em">Unclassified</text>
<text x="394.60" y="361.60" font-size="14" fill="#000" style="color:#000" text-anchor="start" font-weight="bold" >e</text>
<text x="557.00" y="531.20" font-size="11.3" fill="#000" style="color:#000" text-anchor="middle" font-weight="normal" >Kinase group</text>
<text transform="translate(406.2,425) rotate(-90)" font-size="11.3" text-anchor="middle">Number of kinases</text>
<rect x="433.8" y="367.8" width="111.7" height="28.7" fill="#fff"/>
<rect x="436.2" y="369.8" width="7.1" height="12.4" fill="#dfabeb"/>
<rect x="436.2" y="382.6" width="7.1" height="12.4" fill="#fdb994"/>
<text x="447.00" y="380.00" font-size="10" fill="#000" style="color:#000" text-anchor="start" font-weight="normal" >Round 1: 199 kinases</text>
<text x="447.00" y="392.90" font-size="10" fill="#000" style="color:#000" text-anchor="start" font-weight="normal" >Round 2: 207 kinases</text>
</svg>
</body></html>
